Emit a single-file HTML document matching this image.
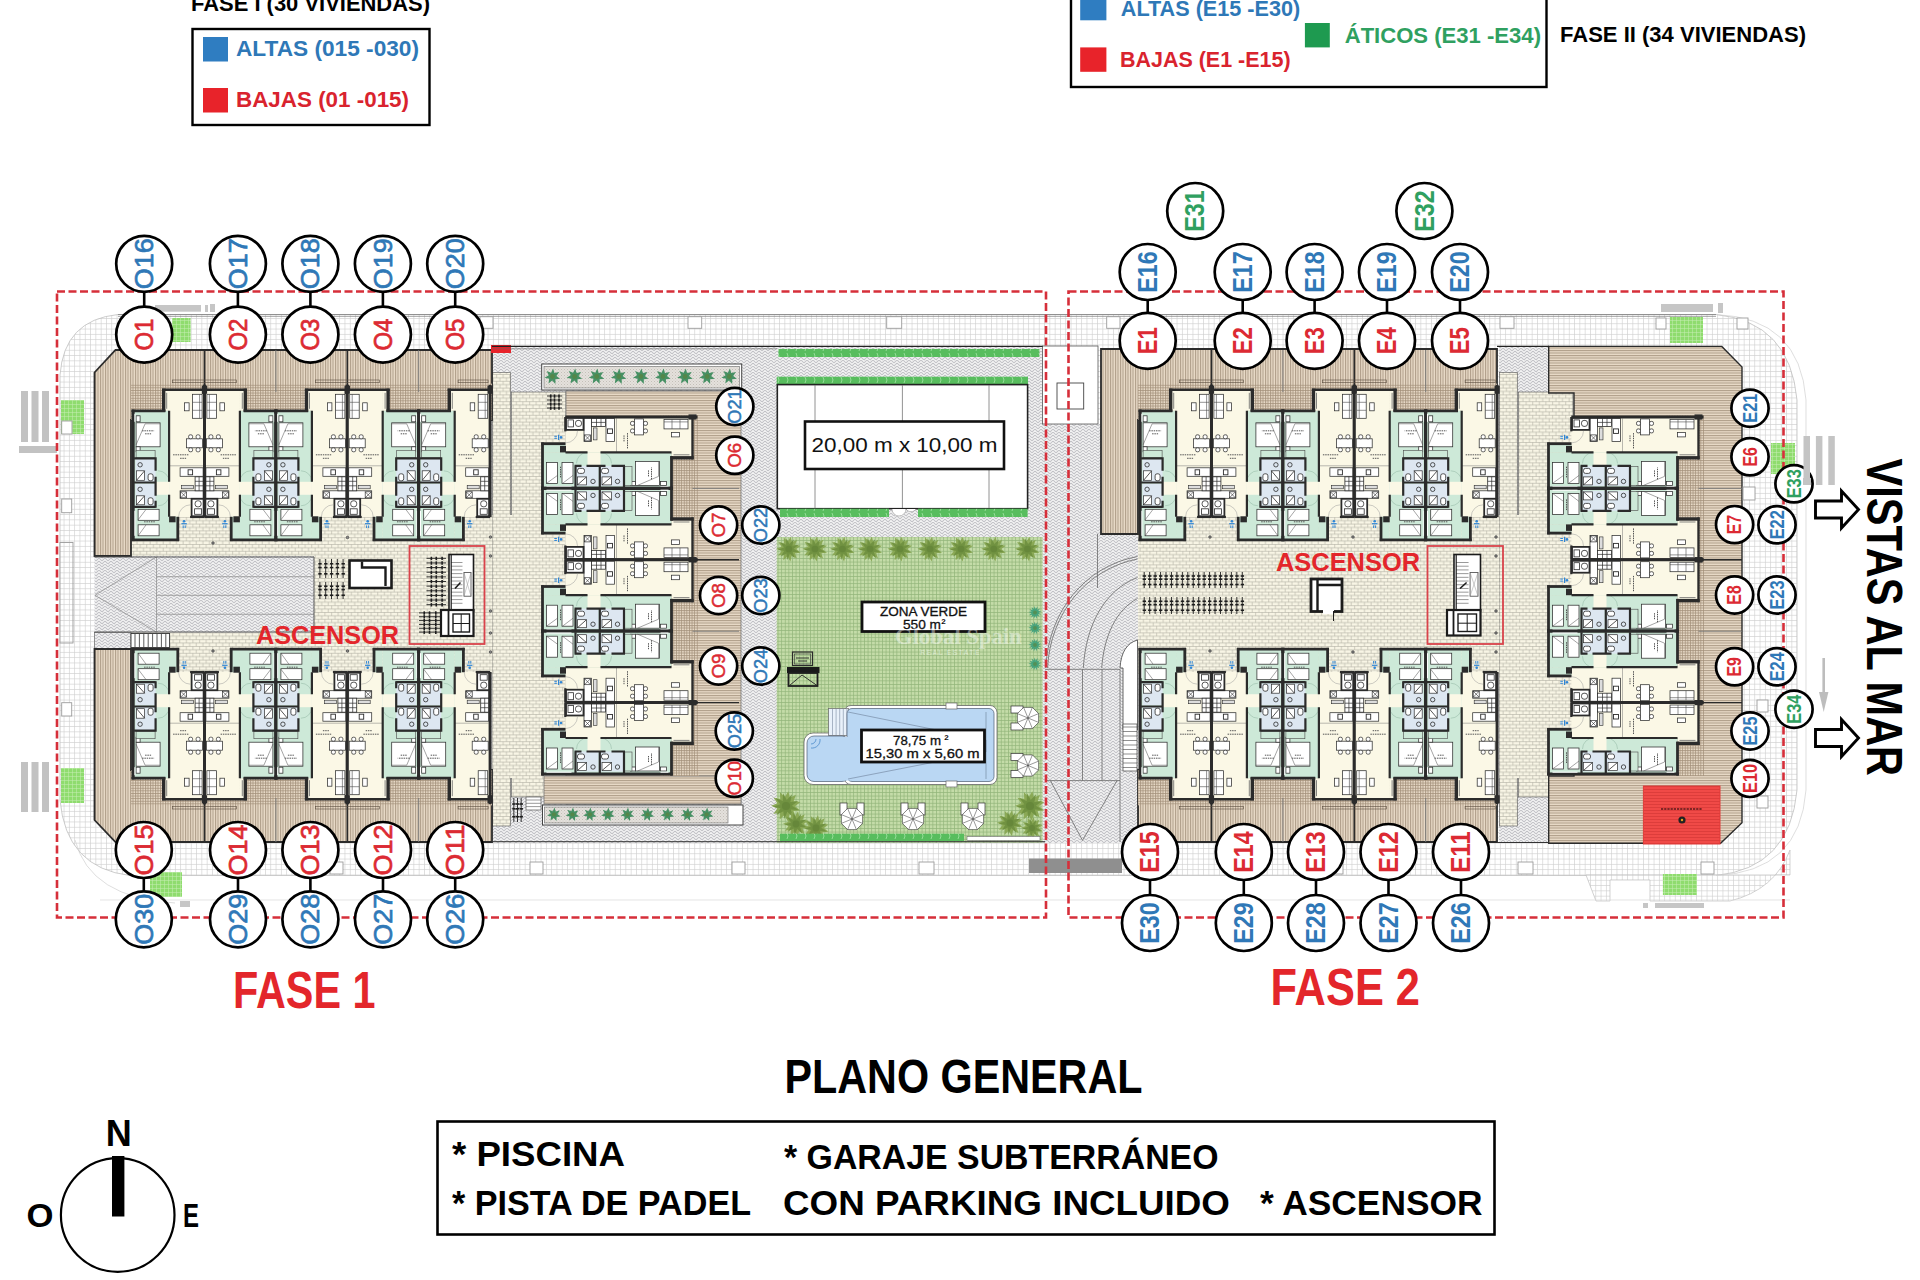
<!DOCTYPE html>
<html><head><meta charset="utf-8"><title>Plano general</title>
<style>html,body{margin:0;padding:0;background:#fff;overflow:hidden}svg{display:block}text{font-family:'Liberation Sans', Arial, sans-serif}</style></head>
<body><svg width="1920" height="1280" viewBox="0 0 1920 1280">

<defs>
<pattern id="woodV" width="2.5" height="8" patternUnits="userSpaceOnUse"><rect width="2.5" height="8" fill="#E8DBC8"/><rect x="0" width="1.05" height="8" fill="#AF9D88"/></pattern>
<pattern id="woodX" width="2.5" height="2.6" patternUnits="userSpaceOnUse"><rect width="2.5" height="2.6" fill="#E8DBC8"/><rect x="0" width="1.05" height="2.6" fill="#AF9D88"/><rect y="0" width="2.5" height="0.7" fill="#A39079"/></pattern>
<pattern id="woodXh" width="2.6" height="2.5" patternUnits="userSpaceOnUse"><rect width="2.6" height="2.5" fill="#E8DBC8"/><rect y="0" height="1.05" width="2.6" fill="#AF9D88"/><rect x="0" height="2.5" width="0.7" fill="#A39079"/></pattern>
<pattern id="woodH" width="8" height="2.5" patternUnits="userSpaceOnUse"><rect width="8" height="2.5" fill="#E8DBC8"/><rect y="0" width="8" height="1.05" fill="#AF9D88"/></pattern>
<pattern id="brick" width="6.6" height="6.8" patternUnits="userSpaceOnUse"><rect width="6.6" height="6.8" fill="#F8F5E5"/><path d="M0 0.4H6.6M0 3.8H6.6M1.6 0.4V3.8M4.9 3.8V6.8M4.9 0V0.4" stroke="#AEAC9F" stroke-width="0.6" fill="none"/></pattern>
<pattern id="herr" width="6" height="6" patternUnits="userSpaceOnUse"><rect width="6" height="6" fill="#F4F4F4"/><path d="M0 3L3 0M0 6L3 3M3 0L6 3M3 3L6 6M-1 1L1 -1M5 7L7 5" stroke="#C0C0C5" stroke-width="1.05" fill="none"/></pattern>
<pattern id="grid" width="5.3" height="5.3" patternUnits="userSpaceOnUse"><rect width="5.3" height="5.3" fill="#FFFFFF"/><path d="M0 0.35H5.3M0.35 0V5.3" stroke="#CFCFCF" stroke-width="0.7" fill="none"/></pattern>
<pattern id="grass" width="3.6" height="3.6" patternUnits="userSpaceOnUse"><rect width="3.6" height="3.6" fill="#C4DCA8"/><path d="M0 0.4H3.6M0.4 0V3.6" stroke="#92B479" stroke-width="0.75" fill="none"/></pattern>
<pattern id="hedge" width="9" height="8" patternUnits="userSpaceOnUse"><rect width="9" height="8" fill="#58BD5E"/><path d="M4 1L5 4L4 7" stroke="#A5E3A6" stroke-width="0.8" fill="none"/></pattern>
<pattern id="gsq" width="4" height="4" patternUnits="userSpaceOnUse"><rect width="4" height="4" fill="#8FDC6E"/><path d="M0 0.3H4M0.3 0V4" stroke="#C9F0B8" stroke-width="0.6" fill="none"/></pattern>
<pattern id="redst" width="6" height="3" patternUnits="userSpaceOnUse"><rect width="6" height="3" fill="#F04A47"/><rect width="6" height="0.8" fill="#D93A38"/></pattern>
<pattern id="gravel" width="3" height="3" patternUnits="userSpaceOnUse"><rect width="3" height="3" fill="#E4E1DC"/><rect width="1" height="1" fill="#C4BFB8"/><rect x="1.5" y="1.5" width="1" height="1" fill="#D0CBC4"/></pattern>

<g id="unit"><rect x="36" y="0" width="35.4" height="127.2" fill="#FBF8E6"/>
<rect x="30" y="0" width="6.5" height="21" fill="#FBF8E6"/>
<rect x="0" y="21" width="36" height="129" fill="#CDE9D8"/>
<rect x="36" y="127" width="9" height="23" fill="#CDE9D8"/>
<rect x="22" y="92" width="14" height="13" fill="#FBF8E6"/>
<rect x="2.5" y="69" width="20" height="23" fill="#DDE7F1"/>
<rect x="2.5" y="94" width="20" height="22" fill="#DDE7F1"/>
<rect x="3" y="33" width="24" height="24" fill="#FFFFFF" stroke="#2e2e2e" stroke-width="0.75"/>
<path d="M3 55L12 34H27" fill="none" stroke="#4a4a4a" stroke-width="0.5"/>
<rect x="3" y="26" width="4" height="6" fill="#FFFFFF" stroke="#2e2e2e" stroke-width="0.75"/><rect x="3" y="57" width="4" height="5" fill="#FFFFFF" stroke="#2e2e2e" stroke-width="0.75"/>
<rect x="3" y="60.5" width="19" height="7.5" fill="#CDE9D8" stroke="#4a4a4a" stroke-width="0.6"/>
<rect x="5" y="119.5" width="21" height="11" fill="#FFFFFF" stroke="#2e2e2e" stroke-width="0.75"/><rect x="5" y="135" width="21" height="11" fill="#FFFFFF" stroke="#2e2e2e" stroke-width="0.75"/>
<path d="M5 130L13 119.5M5 146L13 135" fill="none" stroke="#4a4a4a" stroke-width="0.5"/>
<circle cx="7" cy="75" r="2.2" fill="none" stroke="#2b2b2b" stroke-width="0.8"/><circle cx="7" cy="99.5" r="2.2" fill="none" stroke="#2b2b2b" stroke-width="0.8"/>
<rect x="3.5" y="81" width="8" height="9.5" fill="#fff" stroke="#2b2b2b" stroke-width="0.7"/><path d="M3.5 90.5L11.5 81" fill="none" stroke="#2b2b2b" stroke-width="0.8"/>
<rect x="3.5" y="106" width="8" height="9" fill="#fff" stroke="#2b2b2b" stroke-width="0.7"/><path d="M3.5 115L11.5 106" fill="none" stroke="#2b2b2b" stroke-width="0.8"/>
<rect x="15" y="84" width="5" height="7" rx="2" fill="#fff" stroke="#2b2b2b" stroke-width="0.8"/>
<rect x="15" y="108" width="5" height="7" rx="2" fill="#fff" stroke="#2b2b2b" stroke-width="0.8"/>
<rect x="59.5" y="4.5" width="9.5" height="24" fill="#FFFFFF" stroke="#2e2e2e" stroke-width="0.75"/><path d="M59.5 12.5h9.5M59.5 20.5h9.5M66.5 4.5v24" fill="none" stroke="#4a4a4a" stroke-width="0.6"/>
<rect x="51.5" y="13" width="4.5" height="8" fill="#FFFFFF" stroke="#2e2e2e" stroke-width="0.75"/>
<rect x="53.5" y="49" width="16" height="9" fill="#FFFFFF" stroke="#2e2e2e" stroke-width="0.75"/>
<rect x="55.5" y="45" width="4" height="4" rx="1.6" fill="#FFFFFF" stroke="#2e2e2e" stroke-width="0.75"/><rect x="55.5" y="58" width="4" height="4" rx="1.6" fill="#FFFFFF" stroke="#2e2e2e" stroke-width="0.75"/>
<rect x="63" y="45" width="4" height="4" rx="1.6" fill="#FFFFFF" stroke="#2e2e2e" stroke-width="0.75"/><rect x="63" y="58" width="4" height="4" rx="1.6" fill="#FFFFFF" stroke="#2e2e2e" stroke-width="0.75"/>
<path d="M36 76H70" stroke="#777" stroke-width="0.5"/>
<path d="M40 65H56M47 68.5H53M9 41H21M12 44H18M11 132H22" stroke="#555" stroke-width="1" stroke-dasharray="1.5 0.8" fill="none"/>
<rect x="47" y="78" width="23" height="8.5" fill="#FFFFFF" stroke="#2e2e2e" stroke-width="0.75"/><rect x="55" y="80" width="4.5" height="5" fill="#fff" stroke="#2b2b2b" stroke-width="0.9"/>
<rect x="47" y="101" width="23" height="7.5" fill="#FFFFFF" stroke="#2e2e2e" stroke-width="0.75"/><rect x="47.5" y="102" width="6" height="6" fill="#fff" stroke="#2b2b2b" stroke-width="0.7"/><path d="M47.5 102l6 6M53.5 102l-6 6" stroke="#2b2b2b" stroke-width="0.6"/>
<rect x="62" y="87" width="8" height="14" fill="#fff" stroke="#2b2b2b" stroke-width="0.8"/><path d="M62 91.5h8M62 96h8M66 87v14" stroke="#2b2b2b" stroke-width="0.7"/>
<rect x="48.5" y="95.5" width="12" height="3.5" fill="#ddd" stroke="#2b2b2b" stroke-width="0.6"/>
<rect x="58.5" y="109" width="12" height="17.5" fill="#fff" stroke="#2b2b2b" stroke-width="1.8"/>
<rect x="62" y="111" width="6" height="6" rx="2.5" fill="#fff" stroke="#2b2b2b" stroke-width="0.8"/><rect x="61.5" y="119" width="7" height="5.5" fill="#fff" stroke="#2b2b2b" stroke-width="0.8"/>
<path d="M45.5 127A12 12 0 0 1 57.5 115" fill="none" stroke="#9a9a9a" stroke-width="0.5"/>
<path d="M36 92A11 11 0 0 0 25 81M36 105A11 11 0 0 1 25 116" fill="none" stroke="#8fb5a0" stroke-width="0.5"/>
<path d="M0 19.7V151.3" stroke="#2b2b2b" fill="none" stroke-width="3.2"/>
<path d="M71.4 -5V127.2" stroke="#2b2b2b" fill="none" stroke-width="3"/>
<path d="M68.80000000000001 -4h5.2v8h-5.2z" fill="#2b2b2b"/>
<path d="M29 0H71.4" stroke="#2b2b2b" fill="none" stroke-width="2.4"/>
<path d="M30.6 -1.2V22" stroke="#2b2b2b" fill="none" stroke-width="3.4"/>
<path d="M33.6 3V19" stroke="#666" stroke-width="0.8" fill="none"/>
<path d="M-1.6 21H32.3" stroke="#2b2b2b" fill="none" stroke-width="2.8"/>
<path d="M36 21V92M36 105V127" stroke="#2b2b2b" fill="none" stroke-width="2.2"/>
<path d="M-1.6 150H46" stroke="#2b2b2b" fill="none" stroke-width="2.8"/>
<path d="M44.7 127V151.3" stroke="#2b2b2b" fill="none" stroke-width="2.8"/>
<rect x="36" y="126.5" width="6.5" height="6" fill="#2b2b2b"/>
<path d="M57 127.2H71.4" stroke="#2b2b2b" fill="none" stroke-width="2.2"/>
<path d="M1 68.5H22.5M1 92.7H22.5M1 117H22.5M22.5 67.5V81M22.5 87V106M22.5 111V118" stroke="#2b2b2b" fill="none" stroke-width="2.2"/>
<path d="M1.8 24V32M1.8 121V146" stroke="#fff" stroke-width="1" fill="none"/>
<g fill="#2F86D6"><circle cx="51" cy="131.5" r="1.3"/><path d="M48.3 133.3h5.4v1.2h-5.4z"/><rect x="49.6" y="135.6" width="1" height="2.6"/><rect x="51.6" y="135.6" width="1" height="2.6"/></g></g>
</defs>
<path d="M118 314.5H1716Q1790 322 1797 400V790Q1790 868 1716 875.5H130Q66 868 60 800V375Q64 320 118 314.5Z" fill="url(#grid)" stroke="#BFBFBF" stroke-width="0.8"/>
<path d="M1586 875L1596 901H1610V880H1650V901H1730Q1775 890 1790 850V875Z" fill="url(#grid)" stroke="#BFBFBF" stroke-width="0.7"/>
<path d="M1716 314.5Q1800 318 1806 400V790Q1800 872 1716 875.5" fill="none" stroke="#D0D0D0" stroke-width="0.7"/>
<path d="M118 314.5H1716M118 316.3H1716" stroke="#777" stroke-width="0.7"/>
<path d="M100 900H1790" stroke="#D8D8D8" stroke-width="0.7"/><path d="M75 840Q90 898 175 903" fill="none" stroke="#D0D0D0" stroke-width="0.7"/>
<rect x="492.00" y="346.00" width="553.00" height="497.00" fill="url(#herr)" />
<rect x="131.00" y="515.00" width="417.00" height="159.00" fill="url(#brick)" />
<rect x="492.50" y="372.50" width="18.00" height="453.50" fill="url(#brick)" stroke="#555" stroke-width="0.6"/>
<rect x="511.50" y="392.00" width="54.50" height="405.00" fill="url(#brick)" stroke="#555" stroke-width="0.6"/>
<rect x="492.50" y="515.00" width="73.50" height="263.00" fill="url(#brick)" />
<rect x="94.50" y="556.00" width="219.50" height="76.50" fill="url(#herr)" />
<rect x="94.50" y="632.50" width="36.50" height="16.50" fill="url(#herr)" stroke="#666" stroke-width="0.7"/>
<polygon points="94.50,372.50 115.50,350.00 492.00,350.00 492.00,420.00 131.00,420.00 131.00,556.00 94.50,556.00" fill="url(#woodV)" stroke="#2b2b2b" stroke-width="1.8"/>
<rect x="131.00" y="383.70" width="361.00" height="36.30" fill="url(#woodX)" />
<polygon points="94.50,649.00 131.00,649.00 131.00,770.00 492.00,770.00 492.00,842.00 115.50,842.00 94.50,820.00" fill="url(#woodV)" stroke="#2b2b2b" stroke-width="1.8"/>
<rect x="131.00" y="770.00" width="361.00" height="35.30" fill="url(#woodX)" />
<rect x="566.00" y="391.00" width="175.00" height="413.00" fill="url(#woodH)" stroke="#777" stroke-width="0.8"/>
<rect x="544.00" y="776.00" width="197.00" height="28.00" fill="url(#woodH)" stroke="#777" stroke-width="0.8"/>
<rect x="660.00" y="415.00" width="39.00" height="361.00" fill="url(#woodXh)" />
<rect x="541.70" y="364.00" width="200.00" height="26.00" fill="#fff" stroke="#444" stroke-width="1"/>
<rect x="544.00" y="366.50" width="195.50" height="21.50" fill="url(#gravel)" stroke="#666" stroke-width="0.6"/>
<rect x="542.50" y="805.00" width="200.50" height="20.00" fill="#fff" stroke="#444" stroke-width="1"/>
<rect x="544.50" y="807.00" width="183.50" height="16.00" fill="url(#gravel)" stroke="#666" stroke-width="0.6"/>
<polygon points="560.14,378.86 555.43,379.22 555.42,383.95 552.20,380.49 548.49,383.42 549.19,378.75 544.59,377.69 548.68,375.32 546.64,371.05 551.04,372.78 553.10,368.52 554.50,373.04 559.11,372.00 556.46,375.91" fill="#3A8A5A" opacity="0.92"/>
<circle cx="552.5" cy="376.5" r="2.4" fill="#5F7F35" opacity="0.55"/>
<polygon points="582.24,378.86 577.53,379.22 577.52,383.95 574.30,380.49 570.59,383.42 571.29,378.75 566.69,377.69 570.78,375.32 568.74,371.05 573.14,372.78 575.20,368.52 576.60,373.04 581.21,372.00 578.56,375.91" fill="#3A8A5A" opacity="0.92"/>
<circle cx="574.6" cy="376.5" r="2.4" fill="#5F7F35" opacity="0.55"/>
<polygon points="604.34,378.86 599.63,379.22 599.62,383.95 596.40,380.49 592.69,383.42 593.39,378.75 588.79,377.69 592.88,375.32 590.84,371.05 595.24,372.78 597.30,368.52 598.70,373.04 603.31,372.00 600.66,375.91" fill="#3A8A5A" opacity="0.92"/>
<circle cx="596.7" cy="376.5" r="2.4" fill="#5F7F35" opacity="0.55"/>
<polygon points="626.44,378.86 621.73,379.22 621.72,383.95 618.50,380.49 614.79,383.42 615.49,378.75 610.89,377.69 614.98,375.32 612.94,371.05 617.34,372.78 619.40,368.52 620.80,373.04 625.41,372.00 622.76,375.91" fill="#3A8A5A" opacity="0.92"/>
<circle cx="618.8" cy="376.5" r="2.4" fill="#5F7F35" opacity="0.55"/>
<polygon points="648.54,378.86 643.83,379.22 643.82,383.95 640.60,380.49 636.89,383.42 637.59,378.75 632.99,377.69 637.08,375.32 635.04,371.05 639.44,372.78 641.50,368.52 642.90,373.04 647.51,372.00 644.86,375.91" fill="#3A8A5A" opacity="0.92"/>
<circle cx="640.9" cy="376.5" r="2.4" fill="#5F7F35" opacity="0.55"/>
<polygon points="670.64,378.86 665.93,379.22 665.92,383.95 662.70,380.49 658.99,383.42 659.69,378.75 655.09,377.69 659.18,375.32 657.14,371.05 661.54,372.78 663.60,368.52 665.00,373.04 669.61,372.00 666.96,375.91" fill="#3A8A5A" opacity="0.92"/>
<circle cx="663.0" cy="376.5" r="2.4" fill="#5F7F35" opacity="0.55"/>
<polygon points="692.74,378.86 688.03,379.22 688.02,383.95 684.80,380.49 681.09,383.42 681.79,378.75 677.19,377.69 681.28,375.32 679.24,371.05 683.64,372.78 685.70,368.52 687.10,373.04 691.71,372.00 689.06,375.91" fill="#3A8A5A" opacity="0.92"/>
<circle cx="685.1" cy="376.5" r="2.4" fill="#5F7F35" opacity="0.55"/>
<polygon points="714.84,378.86 710.13,379.22 710.12,383.95 706.90,380.49 703.19,383.42 703.89,378.75 699.29,377.69 703.38,375.32 701.34,371.05 705.74,372.78 707.80,368.52 709.20,373.04 713.81,372.00 711.16,375.91" fill="#3A8A5A" opacity="0.92"/>
<circle cx="707.2" cy="376.5" r="2.4" fill="#5F7F35" opacity="0.55"/>
<polygon points="736.94,378.86 732.23,379.22 732.22,383.95 729.00,380.49 725.29,383.42 725.99,378.75 721.39,377.69 725.48,375.32 723.44,371.05 727.84,372.78 729.90,368.52 731.30,373.04 735.91,372.00 733.26,375.91" fill="#3A8A5A" opacity="0.92"/>
<circle cx="729.3" cy="376.5" r="2.4" fill="#5F7F35" opacity="0.55"/>
<polygon points="560.69,816.57 556.56,816.88 556.55,821.02 553.74,817.99 550.50,820.56 551.11,816.47 547.08,815.54 550.66,813.47 548.87,809.73 552.72,811.24 554.53,807.52 555.75,811.47 559.79,810.56 557.46,813.98" fill="#3A8A5A" opacity="0.92"/>
<circle cx="554.0" cy="814.5" r="2.1" fill="#5F7F35" opacity="0.55"/>
<polygon points="579.19,816.57 575.06,816.88 575.05,821.02 572.24,817.99 569.00,820.56 569.61,816.47 565.58,815.54 569.16,813.47 567.37,809.73 571.22,811.24 573.03,807.52 574.25,811.47 578.29,810.56 575.96,813.98" fill="#3A8A5A" opacity="0.92"/>
<circle cx="572.5" cy="814.5" r="2.1" fill="#5F7F35" opacity="0.55"/>
<polygon points="596.69,816.57 592.56,816.88 592.55,821.02 589.74,817.99 586.50,820.56 587.11,816.47 583.08,815.54 586.66,813.47 584.87,809.73 588.72,811.24 590.53,807.52 591.75,811.47 595.79,810.56 593.46,813.98" fill="#3A8A5A" opacity="0.92"/>
<circle cx="590.0" cy="814.5" r="2.1" fill="#5F7F35" opacity="0.55"/>
<polygon points="614.69,816.57 610.56,816.88 610.55,821.02 607.74,817.99 604.50,820.56 605.11,816.47 601.08,815.54 604.66,813.47 602.87,809.73 606.72,811.24 608.53,807.52 609.75,811.47 613.79,810.56 611.46,813.98" fill="#3A8A5A" opacity="0.92"/>
<circle cx="608.0" cy="814.5" r="2.1" fill="#5F7F35" opacity="0.55"/>
<polygon points="634.19,816.57 630.06,816.88 630.05,821.02 627.24,817.99 624.00,820.56 624.61,816.47 620.58,815.54 624.16,813.47 622.37,809.73 626.22,811.24 628.03,807.52 629.25,811.47 633.29,810.56 630.96,813.98" fill="#3A8A5A" opacity="0.92"/>
<circle cx="627.5" cy="814.5" r="2.1" fill="#5F7F35" opacity="0.55"/>
<polygon points="654.19,816.57 650.06,816.88 650.05,821.02 647.24,817.99 644.00,820.56 644.61,816.47 640.58,815.54 644.16,813.47 642.37,809.73 646.22,811.24 648.03,807.52 649.25,811.47 653.29,810.56 650.96,813.98" fill="#3A8A5A" opacity="0.92"/>
<circle cx="647.5" cy="814.5" r="2.1" fill="#5F7F35" opacity="0.55"/>
<polygon points="674.19,816.57 670.06,816.88 670.05,821.02 667.24,817.99 664.00,820.56 664.61,816.47 660.58,815.54 664.16,813.47 662.37,809.73 666.22,811.24 668.03,807.52 669.25,811.47 673.29,810.56 670.96,813.98" fill="#3A8A5A" opacity="0.92"/>
<circle cx="667.5" cy="814.5" r="2.1" fill="#5F7F35" opacity="0.55"/>
<polygon points="694.19,816.57 690.06,816.88 690.05,821.02 687.24,817.99 684.00,820.56 684.61,816.47 680.58,815.54 684.16,813.47 682.37,809.73 686.22,811.24 688.03,807.52 689.25,811.47 693.29,810.56 690.96,813.98" fill="#3A8A5A" opacity="0.92"/>
<circle cx="687.5" cy="814.5" r="2.1" fill="#5F7F35" opacity="0.55"/>
<polygon points="713.39,816.57 709.26,816.88 709.25,821.02 706.44,817.99 703.20,820.56 703.81,816.47 699.78,815.54 703.36,813.47 701.57,809.73 705.42,811.24 707.23,807.52 708.45,811.47 712.49,810.56 710.16,813.98" fill="#3A8A5A" opacity="0.92"/>
<circle cx="706.7" cy="814.5" r="2.1" fill="#5F7F35" opacity="0.55"/>
<line x1="204.50" y1="350.00" x2="204.50" y2="392.00" stroke="#2b2b2b" stroke-width="1.6" />
<line x1="204.50" y1="798.00" x2="204.50" y2="842.00" stroke="#2b2b2b" stroke-width="1.6" />
<line x1="275.90" y1="350.00" x2="275.90" y2="392.00" stroke="#777" stroke-width="0.9" />
<line x1="275.90" y1="798.00" x2="275.90" y2="842.00" stroke="#777" stroke-width="0.9" />
<line x1="347.30" y1="350.00" x2="347.30" y2="392.00" stroke="#2b2b2b" stroke-width="1.6" />
<line x1="347.30" y1="798.00" x2="347.30" y2="842.00" stroke="#2b2b2b" stroke-width="1.6" />
<line x1="418.70" y1="350.00" x2="418.70" y2="392.00" stroke="#777" stroke-width="0.9" />
<line x1="418.70" y1="798.00" x2="418.70" y2="842.00" stroke="#777" stroke-width="0.9" />
<rect x="172.5" y="380" width="64" height="2.7" fill="none" stroke="#5b4e40" stroke-width="0.6"/>
<rect x="172.5" y="806.3" width="64" height="2.7" fill="none" stroke="#5b4e40" stroke-width="0.6"/>
<rect x="315.3" y="380" width="64" height="2.7" fill="none" stroke="#5b4e40" stroke-width="0.6"/>
<rect x="315.3" y="806.3" width="64" height="2.7" fill="none" stroke="#5b4e40" stroke-width="0.6"/>
<rect x="458.1" y="380" width="30" height="2.7" fill="none" stroke="#5b4e40" stroke-width="0.6"/>
<rect x="458.1" y="806.3" width="30" height="2.7" fill="none" stroke="#5b4e40" stroke-width="0.6"/>
<line x1="692.50" y1="488.40" x2="739.00" y2="488.40" stroke="#777" stroke-width="0.9" />
<line x1="692.50" y1="559.80" x2="739.00" y2="559.80" stroke="#2b2b2b" stroke-width="1.4" />
<line x1="692.50" y1="631.20" x2="739.00" y2="631.20" stroke="#777" stroke-width="0.9" />
<line x1="692.50" y1="702.60" x2="739.00" y2="702.60" stroke="#2b2b2b" stroke-width="1.4" />
<use href="#unit" transform="matrix(1 0 0 1 133.10 389.80)"/>
<use href="#unit" transform="matrix(1 0 0 -1 133.10 799.20)"/>
<use href="#unit" transform="matrix(-1 0 0 1 275.90 389.80)"/>
<use href="#unit" transform="matrix(-1 0 0 -1 275.90 799.20)"/>
<use href="#unit" transform="matrix(1 0 0 1 275.90 389.80)"/>
<use href="#unit" transform="matrix(1 0 0 -1 275.90 799.20)"/>
<use href="#unit" transform="matrix(-1 0 0 1 418.70 389.80)"/>
<use href="#unit" transform="matrix(-1 0 0 -1 418.70 799.20)"/>
<use href="#unit" transform="matrix(1 0 0 1 418.70 389.80)"/>
<use href="#unit" transform="matrix(1 0 0 -1 418.70 799.20)"/>
<use href="#unit" transform="matrix(0 -1 -1 0 692.50 488.40)"/>
<use href="#unit" transform="matrix(0 1 -1 0 692.50 488.40)"/>
<use href="#unit" transform="matrix(0 -1 -1 0 692.50 631.20)"/>
<use href="#unit" transform="matrix(0 1 -1 0 692.50 631.20)"/>
<use href="#unit" transform="matrix(0 -1 -1 0 692.50 774.00)"/>
<rect x="1045.00" y="424.00" width="93.00" height="419.00" fill="url(#herr)" />
<rect x="1499.00" y="346.00" width="50.00" height="497.00" fill="url(#herr)" />
<rect x="1138.00" y="515.00" width="417.00" height="159.00" fill="url(#brick)" />
<rect x="1499.50" y="372.50" width="18.00" height="453.50" fill="url(#brick)" stroke="#555" stroke-width="0.6"/>
<rect x="1518.50" y="392.00" width="54.50" height="405.00" fill="url(#brick)" stroke="#555" stroke-width="0.6"/>
<rect x="1499.50" y="515.00" width="73.50" height="263.00" fill="url(#brick)" />
<polygon points="1101.00,349.00 1497.00,349.00 1497.00,420.00 1138.00,420.00 1138.00,534.00 1101.00,534.00" fill="url(#woodV)" stroke="#2b2b2b" stroke-width="1.8"/>
<rect x="1138.00" y="383.70" width="359.00" height="36.30" fill="url(#woodX)" />
<polygon points="1138.00,770.00 1497.00,770.00 1497.00,842.00 1138.00,842.00" fill="url(#woodV)" stroke="#2b2b2b" stroke-width="1.8"/>
<rect x="1138.00" y="770.00" width="359.00" height="35.30" fill="url(#woodX)" />
<polygon points="1548.70,346.40 1721.80,346.40 1742.00,367.00 1742.00,822.70 1720.60,843.30 1548.70,843.30 1548.70,776.00 1574.00,776.00 1574.00,393.00 1548.70,393.00" fill="url(#woodH)" stroke="#2b2b2b" stroke-width="1.4"/>
<rect x="1666.00" y="415.00" width="39.00" height="361.00" fill="url(#woodXh)" />
<line x1="1211.50" y1="350.00" x2="1211.50" y2="392.00" stroke="#2b2b2b" stroke-width="1.6" />
<line x1="1211.50" y1="798.00" x2="1211.50" y2="842.00" stroke="#2b2b2b" stroke-width="1.6" />
<line x1="1282.90" y1="350.00" x2="1282.90" y2="392.00" stroke="#777" stroke-width="0.9" />
<line x1="1282.90" y1="798.00" x2="1282.90" y2="842.00" stroke="#777" stroke-width="0.9" />
<line x1="1354.30" y1="350.00" x2="1354.30" y2="392.00" stroke="#2b2b2b" stroke-width="1.6" />
<line x1="1354.30" y1="798.00" x2="1354.30" y2="842.00" stroke="#2b2b2b" stroke-width="1.6" />
<line x1="1425.70" y1="350.00" x2="1425.70" y2="392.00" stroke="#777" stroke-width="0.9" />
<line x1="1425.70" y1="798.00" x2="1425.70" y2="842.00" stroke="#777" stroke-width="0.9" />
<rect x="1179.5" y="380" width="64" height="2.7" fill="none" stroke="#5b4e40" stroke-width="0.6"/>
<rect x="1179.5" y="806.3" width="64" height="2.7" fill="none" stroke="#5b4e40" stroke-width="0.6"/>
<rect x="1322.3" y="380" width="64" height="2.7" fill="none" stroke="#5b4e40" stroke-width="0.6"/>
<rect x="1322.3" y="806.3" width="64" height="2.7" fill="none" stroke="#5b4e40" stroke-width="0.6"/>
<rect x="1465.1" y="380" width="30" height="2.7" fill="none" stroke="#5b4e40" stroke-width="0.6"/>
<rect x="1465.1" y="806.3" width="30" height="2.7" fill="none" stroke="#5b4e40" stroke-width="0.6"/>
<line x1="1698.50" y1="488.40" x2="1742.00" y2="488.40" stroke="#777" stroke-width="0.9" />
<line x1="1698.50" y1="559.80" x2="1742.00" y2="559.80" stroke="#2b2b2b" stroke-width="1.4" />
<line x1="1698.50" y1="631.20" x2="1742.00" y2="631.20" stroke="#777" stroke-width="0.9" />
<line x1="1698.50" y1="702.60" x2="1742.00" y2="702.60" stroke="#2b2b2b" stroke-width="1.4" />
<use href="#unit" transform="matrix(1 0 0 1 1140.10 389.80)"/>
<use href="#unit" transform="matrix(1 0 0 -1 1140.10 799.20)"/>
<use href="#unit" transform="matrix(-1 0 0 1 1282.90 389.80)"/>
<use href="#unit" transform="matrix(-1 0 0 -1 1282.90 799.20)"/>
<use href="#unit" transform="matrix(1 0 0 1 1282.90 389.80)"/>
<use href="#unit" transform="matrix(1 0 0 -1 1282.90 799.20)"/>
<use href="#unit" transform="matrix(-1 0 0 1 1425.70 389.80)"/>
<use href="#unit" transform="matrix(-1 0 0 -1 1425.70 799.20)"/>
<use href="#unit" transform="matrix(1 0 0 1 1425.70 389.80)"/>
<use href="#unit" transform="matrix(1 0 0 -1 1425.70 799.20)"/>
<use href="#unit" transform="matrix(0 -1 -1 0 1698.50 488.40)"/>
<use href="#unit" transform="matrix(0 1 -1 0 1698.50 488.40)"/>
<use href="#unit" transform="matrix(0 -1 -1 0 1698.50 631.20)"/>
<use href="#unit" transform="matrix(0 1 -1 0 1698.50 631.20)"/>
<use href="#unit" transform="matrix(0 -1 -1 0 1698.50 774.00)"/>
<rect x="778.40" y="349.00" width="261.10" height="8.00" fill="url(#hedge)" />
<rect x="776.70" y="376.70" width="251.30" height="7.90" fill="url(#hedge)" />
<rect x="777.30" y="384.60" width="250.30" height="124.10" fill="#FFFFFF" stroke="#222" stroke-width="1.6"/>
<line x1="815.00" y1="385.00" x2="815.00" y2="508.00" stroke="#777" stroke-width="0.8" />
<line x1="902.40" y1="385.00" x2="902.40" y2="508.00" stroke="#777" stroke-width="0.8" />
<line x1="989.00" y1="385.00" x2="989.00" y2="508.00" stroke="#777" stroke-width="0.8" />
<rect x="780.00" y="508.70" width="109.00" height="8.30" fill="url(#hedge)" />
<rect x="918.00" y="508.70" width="109.60" height="8.30" fill="url(#hedge)" />
<rect x="776.70" y="537.00" width="265.90" height="305.70" fill="url(#grass)" />
<g fill="none" stroke="#8a8a8a" stroke-width="0.7">
<path d="M156.5 557V632M156.5 576.7H314M156.5 595.3H314M156.5 614.3H314M95 595.3L156.5 557M95 595.3L156.5 632"/>
</g>
<path d="M94.5 557H314V632H94.5" fill="none" stroke="#555" stroke-width="1"/>
<rect x="131.00" y="633.50" width="38.60" height="14.00" fill="#fff" stroke="#333" stroke-width="0.9"/>
<line x1="135.00" y1="634.00" x2="135.00" y2="647.00" stroke="#333" stroke-width="0.8" />
<line x1="139.40" y1="634.00" x2="139.40" y2="647.00" stroke="#333" stroke-width="0.8" />
<line x1="143.80" y1="634.00" x2="143.80" y2="647.00" stroke="#333" stroke-width="0.8" />
<line x1="148.20" y1="634.00" x2="148.20" y2="647.00" stroke="#333" stroke-width="0.8" />
<line x1="152.60" y1="634.00" x2="152.60" y2="647.00" stroke="#333" stroke-width="0.8" />
<line x1="157.00" y1="634.00" x2="157.00" y2="647.00" stroke="#333" stroke-width="0.8" />
<line x1="161.40" y1="634.00" x2="161.40" y2="647.00" stroke="#333" stroke-width="0.8" />
<line x1="165.80" y1="634.00" x2="165.80" y2="647.00" stroke="#333" stroke-width="0.8" />
<g stroke="#1d1d1d" stroke-width="0.9">
<line x1="319.90" y1="559.00" x2="319.90" y2="578.00" stroke="#1d1d1d" stroke-width="0.9" />
<line x1="318.30" y1="563.75" x2="321.70" y2="563.75" stroke="#1d1d1d" stroke-width="1.6" />
<line x1="318.30" y1="567.55" x2="321.70" y2="567.55" stroke="#1d1d1d" stroke-width="1.6" />
<line x1="318.30" y1="573.82" x2="321.70" y2="573.82" stroke="#1d1d1d" stroke-width="1.6" />
<line x1="325.70" y1="559.00" x2="325.70" y2="578.00" stroke="#1d1d1d" stroke-width="0.9" />
<line x1="324.10" y1="563.75" x2="327.50" y2="563.75" stroke="#1d1d1d" stroke-width="1.6" />
<line x1="324.10" y1="567.55" x2="327.50" y2="567.55" stroke="#1d1d1d" stroke-width="1.6" />
<line x1="324.10" y1="573.82" x2="327.50" y2="573.82" stroke="#1d1d1d" stroke-width="1.6" />
<line x1="331.50" y1="559.00" x2="331.50" y2="578.00" stroke="#1d1d1d" stroke-width="0.9" />
<line x1="329.90" y1="563.75" x2="333.30" y2="563.75" stroke="#1d1d1d" stroke-width="1.6" />
<line x1="329.90" y1="567.55" x2="333.30" y2="567.55" stroke="#1d1d1d" stroke-width="1.6" />
<line x1="329.90" y1="573.82" x2="333.30" y2="573.82" stroke="#1d1d1d" stroke-width="1.6" />
<line x1="337.30" y1="559.00" x2="337.30" y2="578.00" stroke="#1d1d1d" stroke-width="0.9" />
<line x1="335.70" y1="563.75" x2="339.10" y2="563.75" stroke="#1d1d1d" stroke-width="1.6" />
<line x1="335.70" y1="567.55" x2="339.10" y2="567.55" stroke="#1d1d1d" stroke-width="1.6" />
<line x1="335.70" y1="573.82" x2="339.10" y2="573.82" stroke="#1d1d1d" stroke-width="1.6" />
<line x1="343.10" y1="559.00" x2="343.10" y2="578.00" stroke="#1d1d1d" stroke-width="0.9" />
<line x1="341.50" y1="563.75" x2="344.90" y2="563.75" stroke="#1d1d1d" stroke-width="1.6" />
<line x1="341.50" y1="567.55" x2="344.90" y2="567.55" stroke="#1d1d1d" stroke-width="1.6" />
<line x1="341.50" y1="573.82" x2="344.90" y2="573.82" stroke="#1d1d1d" stroke-width="1.6" />
</g>
<g stroke="#1d1d1d" stroke-width="0.9">
<line x1="319.90" y1="582.00" x2="319.90" y2="599.00" stroke="#1d1d1d" stroke-width="0.9" />
<line x1="318.30" y1="586.25" x2="321.70" y2="586.25" stroke="#1d1d1d" stroke-width="1.6" />
<line x1="318.30" y1="589.65" x2="321.70" y2="589.65" stroke="#1d1d1d" stroke-width="1.6" />
<line x1="318.30" y1="595.26" x2="321.70" y2="595.26" stroke="#1d1d1d" stroke-width="1.6" />
<line x1="325.70" y1="582.00" x2="325.70" y2="599.00" stroke="#1d1d1d" stroke-width="0.9" />
<line x1="324.10" y1="586.25" x2="327.50" y2="586.25" stroke="#1d1d1d" stroke-width="1.6" />
<line x1="324.10" y1="589.65" x2="327.50" y2="589.65" stroke="#1d1d1d" stroke-width="1.6" />
<line x1="324.10" y1="595.26" x2="327.50" y2="595.26" stroke="#1d1d1d" stroke-width="1.6" />
<line x1="331.50" y1="582.00" x2="331.50" y2="599.00" stroke="#1d1d1d" stroke-width="0.9" />
<line x1="329.90" y1="586.25" x2="333.30" y2="586.25" stroke="#1d1d1d" stroke-width="1.6" />
<line x1="329.90" y1="589.65" x2="333.30" y2="589.65" stroke="#1d1d1d" stroke-width="1.6" />
<line x1="329.90" y1="595.26" x2="333.30" y2="595.26" stroke="#1d1d1d" stroke-width="1.6" />
<line x1="337.30" y1="582.00" x2="337.30" y2="599.00" stroke="#1d1d1d" stroke-width="0.9" />
<line x1="335.70" y1="586.25" x2="339.10" y2="586.25" stroke="#1d1d1d" stroke-width="1.6" />
<line x1="335.70" y1="589.65" x2="339.10" y2="589.65" stroke="#1d1d1d" stroke-width="1.6" />
<line x1="335.70" y1="595.26" x2="339.10" y2="595.26" stroke="#1d1d1d" stroke-width="1.6" />
<line x1="343.10" y1="582.00" x2="343.10" y2="599.00" stroke="#1d1d1d" stroke-width="0.9" />
<line x1="341.50" y1="586.25" x2="344.90" y2="586.25" stroke="#1d1d1d" stroke-width="1.6" />
<line x1="341.50" y1="589.65" x2="344.90" y2="589.65" stroke="#1d1d1d" stroke-width="1.6" />
<line x1="341.50" y1="595.26" x2="344.90" y2="595.26" stroke="#1d1d1d" stroke-width="1.6" />
</g>
<rect x="349.5" y="560.5" width="42" height="27.5" fill="#fff" stroke="#1b1b1b" stroke-width="2.6"/>
<path d="M362 561.5V567.5H385.5V586" fill="none" stroke="#1b1b1b" stroke-width="2.4"/>
<rect x="409.5" y="546" width="75" height="98" fill="none" stroke="#D9434B" stroke-width="1.8"/>
<line x1="426.50" y1="558.32" x2="446.00" y2="558.32" stroke="#1d1d1d" stroke-width="0.9" />
<line x1="431.38" y1="556.72" x2="431.38" y2="560.12" stroke="#1d1d1d" stroke-width="1.6" />
<line x1="436.25" y1="556.72" x2="436.25" y2="560.12" stroke="#1d1d1d" stroke-width="1.6" />
<line x1="442.10" y1="556.72" x2="442.10" y2="560.12" stroke="#1d1d1d" stroke-width="1.6" />
<line x1="426.50" y1="562.95" x2="446.00" y2="562.95" stroke="#1d1d1d" stroke-width="0.9" />
<line x1="431.38" y1="561.35" x2="431.38" y2="564.75" stroke="#1d1d1d" stroke-width="1.6" />
<line x1="436.25" y1="561.35" x2="436.25" y2="564.75" stroke="#1d1d1d" stroke-width="1.6" />
<line x1="442.10" y1="561.35" x2="442.10" y2="564.75" stroke="#1d1d1d" stroke-width="1.6" />
<line x1="426.50" y1="567.59" x2="446.00" y2="567.59" stroke="#1d1d1d" stroke-width="0.9" />
<line x1="431.38" y1="565.99" x2="431.38" y2="569.39" stroke="#1d1d1d" stroke-width="1.6" />
<line x1="436.25" y1="565.99" x2="436.25" y2="569.39" stroke="#1d1d1d" stroke-width="1.6" />
<line x1="442.10" y1="565.99" x2="442.10" y2="569.39" stroke="#1d1d1d" stroke-width="1.6" />
<line x1="426.50" y1="572.23" x2="446.00" y2="572.23" stroke="#1d1d1d" stroke-width="0.9" />
<line x1="431.38" y1="570.63" x2="431.38" y2="574.03" stroke="#1d1d1d" stroke-width="1.6" />
<line x1="436.25" y1="570.63" x2="436.25" y2="574.03" stroke="#1d1d1d" stroke-width="1.6" />
<line x1="442.10" y1="570.63" x2="442.10" y2="574.03" stroke="#1d1d1d" stroke-width="1.6" />
<line x1="426.50" y1="576.86" x2="446.00" y2="576.86" stroke="#1d1d1d" stroke-width="0.9" />
<line x1="431.38" y1="575.26" x2="431.38" y2="578.66" stroke="#1d1d1d" stroke-width="1.6" />
<line x1="436.25" y1="575.26" x2="436.25" y2="578.66" stroke="#1d1d1d" stroke-width="1.6" />
<line x1="442.10" y1="575.26" x2="442.10" y2="578.66" stroke="#1d1d1d" stroke-width="1.6" />
<line x1="426.50" y1="581.50" x2="446.00" y2="581.50" stroke="#1d1d1d" stroke-width="0.9" />
<line x1="431.38" y1="579.90" x2="431.38" y2="583.30" stroke="#1d1d1d" stroke-width="1.6" />
<line x1="436.25" y1="579.90" x2="436.25" y2="583.30" stroke="#1d1d1d" stroke-width="1.6" />
<line x1="442.10" y1="579.90" x2="442.10" y2="583.30" stroke="#1d1d1d" stroke-width="1.6" />
<line x1="426.50" y1="586.14" x2="446.00" y2="586.14" stroke="#1d1d1d" stroke-width="0.9" />
<line x1="431.38" y1="584.54" x2="431.38" y2="587.94" stroke="#1d1d1d" stroke-width="1.6" />
<line x1="436.25" y1="584.54" x2="436.25" y2="587.94" stroke="#1d1d1d" stroke-width="1.6" />
<line x1="442.10" y1="584.54" x2="442.10" y2="587.94" stroke="#1d1d1d" stroke-width="1.6" />
<line x1="426.50" y1="590.77" x2="446.00" y2="590.77" stroke="#1d1d1d" stroke-width="0.9" />
<line x1="431.38" y1="589.17" x2="431.38" y2="592.57" stroke="#1d1d1d" stroke-width="1.6" />
<line x1="436.25" y1="589.17" x2="436.25" y2="592.57" stroke="#1d1d1d" stroke-width="1.6" />
<line x1="442.10" y1="589.17" x2="442.10" y2="592.57" stroke="#1d1d1d" stroke-width="1.6" />
<line x1="426.50" y1="595.41" x2="446.00" y2="595.41" stroke="#1d1d1d" stroke-width="0.9" />
<line x1="431.38" y1="593.81" x2="431.38" y2="597.21" stroke="#1d1d1d" stroke-width="1.6" />
<line x1="436.25" y1="593.81" x2="436.25" y2="597.21" stroke="#1d1d1d" stroke-width="1.6" />
<line x1="442.10" y1="593.81" x2="442.10" y2="597.21" stroke="#1d1d1d" stroke-width="1.6" />
<line x1="426.50" y1="600.05" x2="446.00" y2="600.05" stroke="#1d1d1d" stroke-width="0.9" />
<line x1="431.38" y1="598.45" x2="431.38" y2="601.85" stroke="#1d1d1d" stroke-width="1.6" />
<line x1="436.25" y1="598.45" x2="436.25" y2="601.85" stroke="#1d1d1d" stroke-width="1.6" />
<line x1="442.10" y1="598.45" x2="442.10" y2="601.85" stroke="#1d1d1d" stroke-width="1.6" />
<line x1="426.50" y1="604.68" x2="446.00" y2="604.68" stroke="#1d1d1d" stroke-width="0.9" />
<line x1="431.38" y1="603.08" x2="431.38" y2="606.48" stroke="#1d1d1d" stroke-width="1.6" />
<line x1="436.25" y1="603.08" x2="436.25" y2="606.48" stroke="#1d1d1d" stroke-width="1.6" />
<line x1="442.10" y1="603.08" x2="442.10" y2="606.48" stroke="#1d1d1d" stroke-width="1.6" />
<line x1="419.00" y1="612.92" x2="440.00" y2="612.92" stroke="#1d1d1d" stroke-width="0.9" />
<line x1="424.25" y1="611.32" x2="424.25" y2="614.72" stroke="#1d1d1d" stroke-width="1.6" />
<line x1="429.50" y1="611.32" x2="429.50" y2="614.72" stroke="#1d1d1d" stroke-width="1.6" />
<line x1="435.80" y1="611.32" x2="435.80" y2="614.72" stroke="#1d1d1d" stroke-width="1.6" />
<line x1="419.00" y1="616.75" x2="440.00" y2="616.75" stroke="#1d1d1d" stroke-width="0.9" />
<line x1="424.25" y1="615.15" x2="424.25" y2="618.55" stroke="#1d1d1d" stroke-width="1.6" />
<line x1="429.50" y1="615.15" x2="429.50" y2="618.55" stroke="#1d1d1d" stroke-width="1.6" />
<line x1="435.80" y1="615.15" x2="435.80" y2="618.55" stroke="#1d1d1d" stroke-width="1.6" />
<line x1="419.00" y1="620.58" x2="440.00" y2="620.58" stroke="#1d1d1d" stroke-width="0.9" />
<line x1="424.25" y1="618.98" x2="424.25" y2="622.38" stroke="#1d1d1d" stroke-width="1.6" />
<line x1="429.50" y1="618.98" x2="429.50" y2="622.38" stroke="#1d1d1d" stroke-width="1.6" />
<line x1="435.80" y1="618.98" x2="435.80" y2="622.38" stroke="#1d1d1d" stroke-width="1.6" />
<line x1="419.00" y1="624.42" x2="440.00" y2="624.42" stroke="#1d1d1d" stroke-width="0.9" />
<line x1="424.25" y1="622.82" x2="424.25" y2="626.22" stroke="#1d1d1d" stroke-width="1.6" />
<line x1="429.50" y1="622.82" x2="429.50" y2="626.22" stroke="#1d1d1d" stroke-width="1.6" />
<line x1="435.80" y1="622.82" x2="435.80" y2="626.22" stroke="#1d1d1d" stroke-width="1.6" />
<line x1="419.00" y1="628.25" x2="440.00" y2="628.25" stroke="#1d1d1d" stroke-width="0.9" />
<line x1="424.25" y1="626.65" x2="424.25" y2="630.05" stroke="#1d1d1d" stroke-width="1.6" />
<line x1="429.50" y1="626.65" x2="429.50" y2="630.05" stroke="#1d1d1d" stroke-width="1.6" />
<line x1="435.80" y1="626.65" x2="435.80" y2="630.05" stroke="#1d1d1d" stroke-width="1.6" />
<line x1="419.00" y1="632.08" x2="440.00" y2="632.08" stroke="#1d1d1d" stroke-width="0.9" />
<line x1="424.25" y1="630.48" x2="424.25" y2="633.88" stroke="#1d1d1d" stroke-width="1.6" />
<line x1="429.50" y1="630.48" x2="429.50" y2="633.88" stroke="#1d1d1d" stroke-width="1.6" />
<line x1="435.80" y1="630.48" x2="435.80" y2="633.88" stroke="#1d1d1d" stroke-width="1.6" />
<rect x="449" y="554.5" width="24.5" height="56.5" fill="#fff" stroke="#1b1b1b" stroke-width="1.6"/>
<line x1="451.00" y1="562.50" x2="462.48" y2="562.50" stroke="#555" stroke-width="0.6" />
<line x1="451.00" y1="566.21" x2="462.48" y2="566.21" stroke="#555" stroke-width="0.6" />
<line x1="451.00" y1="569.92" x2="462.48" y2="569.92" stroke="#555" stroke-width="0.6" />
<line x1="451.00" y1="573.62" x2="462.48" y2="573.62" stroke="#555" stroke-width="0.6" />
<line x1="451.00" y1="577.33" x2="462.48" y2="577.33" stroke="#555" stroke-width="0.6" />
<line x1="451.00" y1="581.04" x2="462.48" y2="581.04" stroke="#555" stroke-width="0.6" />
<line x1="451.00" y1="584.75" x2="462.48" y2="584.75" stroke="#555" stroke-width="0.6" />
<line x1="451.00" y1="588.46" x2="462.48" y2="588.46" stroke="#555" stroke-width="0.6" />
<line x1="451.00" y1="592.17" x2="462.48" y2="592.17" stroke="#555" stroke-width="0.6" />
<line x1="451.00" y1="595.88" x2="462.48" y2="595.88" stroke="#555" stroke-width="0.6" />
<line x1="451.00" y1="599.58" x2="462.48" y2="599.58" stroke="#555" stroke-width="0.6" />
<line x1="451.00" y1="603.29" x2="462.48" y2="603.29" stroke="#555" stroke-width="0.6" />
<rect x="463.975" y="572.5" width="7.024999999999977" height="23.7" fill="#fff" stroke="#444" stroke-width="0.8"/>
<path d="M463.975 572.5L471.0 596.2M471.0 572.5L463.975 596.2" stroke="#999" stroke-width="0.5"/>
<path d="M455 588.5L460.475 582.5" stroke="#1b1b1b" stroke-width="1.6"/>
<line x1="451.20" y1="554.50" x2="451.20" y2="611.00" stroke="#1b1b1b" stroke-width="1.2" />
<rect x="441" y="610" width="32.5" height="26" fill="#fff" stroke="#1b1b1b" stroke-width="2.2"/>
<rect x="453" y="614" width="16.5" height="18" fill="#fff" stroke="#1b1b1b" stroke-width="1.4"/>
<path d="M453 623.5H469.5M461.2 614V632" stroke="#1b1b1b" stroke-width="1"/>
<line x1="448.50" y1="611.00" x2="448.50" y2="636.00" stroke="#1b1b1b" stroke-width="1.8" />
<text x="256.00" y="644.20" font-size="26" font-weight="bold" fill="#E3262B" text-anchor="start" textLength="143.0" lengthAdjust="spacingAndGlyphs" >ASCENSOR</text>
<rect x="1427.5" y="546" width="75.5" height="98" fill="none" stroke="#D9434B" stroke-width="1.8"/>
<rect x="1454" y="554.5" width="26.5" height="56.5" fill="#fff" stroke="#1b1b1b" stroke-width="1.6"/>
<line x1="1456.00" y1="562.50" x2="1468.58" y2="562.50" stroke="#555" stroke-width="0.6" />
<line x1="1456.00" y1="566.21" x2="1468.58" y2="566.21" stroke="#555" stroke-width="0.6" />
<line x1="1456.00" y1="569.92" x2="1468.58" y2="569.92" stroke="#555" stroke-width="0.6" />
<line x1="1456.00" y1="573.62" x2="1468.58" y2="573.62" stroke="#555" stroke-width="0.6" />
<line x1="1456.00" y1="577.33" x2="1468.58" y2="577.33" stroke="#555" stroke-width="0.6" />
<line x1="1456.00" y1="581.04" x2="1468.58" y2="581.04" stroke="#555" stroke-width="0.6" />
<line x1="1456.00" y1="584.75" x2="1468.58" y2="584.75" stroke="#555" stroke-width="0.6" />
<line x1="1456.00" y1="588.46" x2="1468.58" y2="588.46" stroke="#555" stroke-width="0.6" />
<line x1="1456.00" y1="592.17" x2="1468.58" y2="592.17" stroke="#555" stroke-width="0.6" />
<line x1="1456.00" y1="595.88" x2="1468.58" y2="595.88" stroke="#555" stroke-width="0.6" />
<line x1="1456.00" y1="599.58" x2="1468.58" y2="599.58" stroke="#555" stroke-width="0.6" />
<line x1="1456.00" y1="603.29" x2="1468.58" y2="603.29" stroke="#555" stroke-width="0.6" />
<rect x="1470.075" y="572.5" width="7.9249999999999545" height="23.7" fill="#fff" stroke="#444" stroke-width="0.8"/>
<path d="M1470.075 572.5L1478.0 596.2M1478.0 572.5L1470.075 596.2" stroke="#999" stroke-width="0.5"/>
<path d="M1460 588.5L1466.575 582.5" stroke="#1b1b1b" stroke-width="1.6"/>
<line x1="1456.20" y1="554.50" x2="1456.20" y2="611.00" stroke="#1b1b1b" stroke-width="1.2" />
<rect x="1447" y="610" width="33.5" height="25.5" fill="#fff" stroke="#1b1b1b" stroke-width="2.2"/>
<rect x="1458" y="614" width="18.5" height="17.5" fill="#fff" stroke="#1b1b1b" stroke-width="1.4"/>
<path d="M1458 623.2H1476.5M1467.2 614V631.5" stroke="#1b1b1b" stroke-width="1"/>
<line x1="1453.50" y1="611.00" x2="1453.50" y2="635.50" stroke="#1b1b1b" stroke-width="1.8" />
<text x="1276.00" y="570.50" font-size="26" font-weight="bold" fill="#E3262B" text-anchor="start" textLength="144.0" lengthAdjust="spacingAndGlyphs" >ASCENSOR</text>
<rect x="1311" y="579" width="31" height="32.5" fill="#fff" stroke="#1b1b1b" stroke-width="2.8"/>
<path d="M1317.5 580V611M1317.5 585H1341" fill="none" stroke="#1b1b1b" stroke-width="2.4"/>
<rect x="1323.00" y="609.00" width="11.00" height="5.00" fill="#fff" />
<line x1="1333.50" y1="611.00" x2="1333.50" y2="621.00" stroke="#1b1b1b" stroke-width="1" />
<g stroke="#1d1d1d" stroke-width="0.9">
<line x1="1144.22" y1="572.00" x2="1144.22" y2="588.00" stroke="#1d1d1d" stroke-width="0.9" />
<line x1="1142.62" y1="576.00" x2="1146.02" y2="576.00" stroke="#1d1d1d" stroke-width="1.6" />
<line x1="1142.62" y1="579.20" x2="1146.02" y2="579.20" stroke="#1d1d1d" stroke-width="1.6" />
<line x1="1142.62" y1="584.48" x2="1146.02" y2="584.48" stroke="#1d1d1d" stroke-width="1.6" />
<line x1="1149.67" y1="572.00" x2="1149.67" y2="588.00" stroke="#1d1d1d" stroke-width="0.9" />
<line x1="1148.07" y1="576.00" x2="1151.47" y2="576.00" stroke="#1d1d1d" stroke-width="1.6" />
<line x1="1148.07" y1="579.20" x2="1151.47" y2="579.20" stroke="#1d1d1d" stroke-width="1.6" />
<line x1="1148.07" y1="584.48" x2="1151.47" y2="584.48" stroke="#1d1d1d" stroke-width="1.6" />
<line x1="1155.12" y1="572.00" x2="1155.12" y2="588.00" stroke="#1d1d1d" stroke-width="0.9" />
<line x1="1153.52" y1="576.00" x2="1156.92" y2="576.00" stroke="#1d1d1d" stroke-width="1.6" />
<line x1="1153.52" y1="579.20" x2="1156.92" y2="579.20" stroke="#1d1d1d" stroke-width="1.6" />
<line x1="1153.52" y1="584.48" x2="1156.92" y2="584.48" stroke="#1d1d1d" stroke-width="1.6" />
<line x1="1160.57" y1="572.00" x2="1160.57" y2="588.00" stroke="#1d1d1d" stroke-width="0.9" />
<line x1="1158.97" y1="576.00" x2="1162.37" y2="576.00" stroke="#1d1d1d" stroke-width="1.6" />
<line x1="1158.97" y1="579.20" x2="1162.37" y2="579.20" stroke="#1d1d1d" stroke-width="1.6" />
<line x1="1158.97" y1="584.48" x2="1162.37" y2="584.48" stroke="#1d1d1d" stroke-width="1.6" />
<line x1="1166.01" y1="572.00" x2="1166.01" y2="588.00" stroke="#1d1d1d" stroke-width="0.9" />
<line x1="1164.41" y1="576.00" x2="1167.81" y2="576.00" stroke="#1d1d1d" stroke-width="1.6" />
<line x1="1164.41" y1="579.20" x2="1167.81" y2="579.20" stroke="#1d1d1d" stroke-width="1.6" />
<line x1="1164.41" y1="584.48" x2="1167.81" y2="584.48" stroke="#1d1d1d" stroke-width="1.6" />
<line x1="1171.46" y1="572.00" x2="1171.46" y2="588.00" stroke="#1d1d1d" stroke-width="0.9" />
<line x1="1169.86" y1="576.00" x2="1173.26" y2="576.00" stroke="#1d1d1d" stroke-width="1.6" />
<line x1="1169.86" y1="579.20" x2="1173.26" y2="579.20" stroke="#1d1d1d" stroke-width="1.6" />
<line x1="1169.86" y1="584.48" x2="1173.26" y2="584.48" stroke="#1d1d1d" stroke-width="1.6" />
<line x1="1176.91" y1="572.00" x2="1176.91" y2="588.00" stroke="#1d1d1d" stroke-width="0.9" />
<line x1="1175.31" y1="576.00" x2="1178.71" y2="576.00" stroke="#1d1d1d" stroke-width="1.6" />
<line x1="1175.31" y1="579.20" x2="1178.71" y2="579.20" stroke="#1d1d1d" stroke-width="1.6" />
<line x1="1175.31" y1="584.48" x2="1178.71" y2="584.48" stroke="#1d1d1d" stroke-width="1.6" />
<line x1="1182.36" y1="572.00" x2="1182.36" y2="588.00" stroke="#1d1d1d" stroke-width="0.9" />
<line x1="1180.76" y1="576.00" x2="1184.16" y2="576.00" stroke="#1d1d1d" stroke-width="1.6" />
<line x1="1180.76" y1="579.20" x2="1184.16" y2="579.20" stroke="#1d1d1d" stroke-width="1.6" />
<line x1="1180.76" y1="584.48" x2="1184.16" y2="584.48" stroke="#1d1d1d" stroke-width="1.6" />
<line x1="1187.80" y1="572.00" x2="1187.80" y2="588.00" stroke="#1d1d1d" stroke-width="0.9" />
<line x1="1186.20" y1="576.00" x2="1189.60" y2="576.00" stroke="#1d1d1d" stroke-width="1.6" />
<line x1="1186.20" y1="579.20" x2="1189.60" y2="579.20" stroke="#1d1d1d" stroke-width="1.6" />
<line x1="1186.20" y1="584.48" x2="1189.60" y2="584.48" stroke="#1d1d1d" stroke-width="1.6" />
<line x1="1193.25" y1="572.00" x2="1193.25" y2="588.00" stroke="#1d1d1d" stroke-width="0.9" />
<line x1="1191.65" y1="576.00" x2="1195.05" y2="576.00" stroke="#1d1d1d" stroke-width="1.6" />
<line x1="1191.65" y1="579.20" x2="1195.05" y2="579.20" stroke="#1d1d1d" stroke-width="1.6" />
<line x1="1191.65" y1="584.48" x2="1195.05" y2="584.48" stroke="#1d1d1d" stroke-width="1.6" />
<line x1="1198.70" y1="572.00" x2="1198.70" y2="588.00" stroke="#1d1d1d" stroke-width="0.9" />
<line x1="1197.10" y1="576.00" x2="1200.50" y2="576.00" stroke="#1d1d1d" stroke-width="1.6" />
<line x1="1197.10" y1="579.20" x2="1200.50" y2="579.20" stroke="#1d1d1d" stroke-width="1.6" />
<line x1="1197.10" y1="584.48" x2="1200.50" y2="584.48" stroke="#1d1d1d" stroke-width="1.6" />
<line x1="1204.14" y1="572.00" x2="1204.14" y2="588.00" stroke="#1d1d1d" stroke-width="0.9" />
<line x1="1202.54" y1="576.00" x2="1205.94" y2="576.00" stroke="#1d1d1d" stroke-width="1.6" />
<line x1="1202.54" y1="579.20" x2="1205.94" y2="579.20" stroke="#1d1d1d" stroke-width="1.6" />
<line x1="1202.54" y1="584.48" x2="1205.94" y2="584.48" stroke="#1d1d1d" stroke-width="1.6" />
<line x1="1209.59" y1="572.00" x2="1209.59" y2="588.00" stroke="#1d1d1d" stroke-width="0.9" />
<line x1="1207.99" y1="576.00" x2="1211.39" y2="576.00" stroke="#1d1d1d" stroke-width="1.6" />
<line x1="1207.99" y1="579.20" x2="1211.39" y2="579.20" stroke="#1d1d1d" stroke-width="1.6" />
<line x1="1207.99" y1="584.48" x2="1211.39" y2="584.48" stroke="#1d1d1d" stroke-width="1.6" />
<line x1="1215.04" y1="572.00" x2="1215.04" y2="588.00" stroke="#1d1d1d" stroke-width="0.9" />
<line x1="1213.44" y1="576.00" x2="1216.84" y2="576.00" stroke="#1d1d1d" stroke-width="1.6" />
<line x1="1213.44" y1="579.20" x2="1216.84" y2="579.20" stroke="#1d1d1d" stroke-width="1.6" />
<line x1="1213.44" y1="584.48" x2="1216.84" y2="584.48" stroke="#1d1d1d" stroke-width="1.6" />
<line x1="1220.49" y1="572.00" x2="1220.49" y2="588.00" stroke="#1d1d1d" stroke-width="0.9" />
<line x1="1218.89" y1="576.00" x2="1222.29" y2="576.00" stroke="#1d1d1d" stroke-width="1.6" />
<line x1="1218.89" y1="579.20" x2="1222.29" y2="579.20" stroke="#1d1d1d" stroke-width="1.6" />
<line x1="1218.89" y1="584.48" x2="1222.29" y2="584.48" stroke="#1d1d1d" stroke-width="1.6" />
<line x1="1225.93" y1="572.00" x2="1225.93" y2="588.00" stroke="#1d1d1d" stroke-width="0.9" />
<line x1="1224.33" y1="576.00" x2="1227.73" y2="576.00" stroke="#1d1d1d" stroke-width="1.6" />
<line x1="1224.33" y1="579.20" x2="1227.73" y2="579.20" stroke="#1d1d1d" stroke-width="1.6" />
<line x1="1224.33" y1="584.48" x2="1227.73" y2="584.48" stroke="#1d1d1d" stroke-width="1.6" />
<line x1="1231.38" y1="572.00" x2="1231.38" y2="588.00" stroke="#1d1d1d" stroke-width="0.9" />
<line x1="1229.78" y1="576.00" x2="1233.18" y2="576.00" stroke="#1d1d1d" stroke-width="1.6" />
<line x1="1229.78" y1="579.20" x2="1233.18" y2="579.20" stroke="#1d1d1d" stroke-width="1.6" />
<line x1="1229.78" y1="584.48" x2="1233.18" y2="584.48" stroke="#1d1d1d" stroke-width="1.6" />
<line x1="1236.83" y1="572.00" x2="1236.83" y2="588.00" stroke="#1d1d1d" stroke-width="0.9" />
<line x1="1235.23" y1="576.00" x2="1238.63" y2="576.00" stroke="#1d1d1d" stroke-width="1.6" />
<line x1="1235.23" y1="579.20" x2="1238.63" y2="579.20" stroke="#1d1d1d" stroke-width="1.6" />
<line x1="1235.23" y1="584.48" x2="1238.63" y2="584.48" stroke="#1d1d1d" stroke-width="1.6" />
<line x1="1242.28" y1="572.00" x2="1242.28" y2="588.00" stroke="#1d1d1d" stroke-width="0.9" />
<line x1="1240.68" y1="576.00" x2="1244.08" y2="576.00" stroke="#1d1d1d" stroke-width="1.6" />
<line x1="1240.68" y1="579.20" x2="1244.08" y2="579.20" stroke="#1d1d1d" stroke-width="1.6" />
<line x1="1240.68" y1="584.48" x2="1244.08" y2="584.48" stroke="#1d1d1d" stroke-width="1.6" />
</g>
<g stroke="#1d1d1d" stroke-width="0.9">
<line x1="1144.22" y1="597.00" x2="1144.22" y2="614.00" stroke="#1d1d1d" stroke-width="0.9" />
<line x1="1142.62" y1="601.25" x2="1146.02" y2="601.25" stroke="#1d1d1d" stroke-width="1.6" />
<line x1="1142.62" y1="604.65" x2="1146.02" y2="604.65" stroke="#1d1d1d" stroke-width="1.6" />
<line x1="1142.62" y1="610.26" x2="1146.02" y2="610.26" stroke="#1d1d1d" stroke-width="1.6" />
<line x1="1149.67" y1="597.00" x2="1149.67" y2="614.00" stroke="#1d1d1d" stroke-width="0.9" />
<line x1="1148.07" y1="601.25" x2="1151.47" y2="601.25" stroke="#1d1d1d" stroke-width="1.6" />
<line x1="1148.07" y1="604.65" x2="1151.47" y2="604.65" stroke="#1d1d1d" stroke-width="1.6" />
<line x1="1148.07" y1="610.26" x2="1151.47" y2="610.26" stroke="#1d1d1d" stroke-width="1.6" />
<line x1="1155.12" y1="597.00" x2="1155.12" y2="614.00" stroke="#1d1d1d" stroke-width="0.9" />
<line x1="1153.52" y1="601.25" x2="1156.92" y2="601.25" stroke="#1d1d1d" stroke-width="1.6" />
<line x1="1153.52" y1="604.65" x2="1156.92" y2="604.65" stroke="#1d1d1d" stroke-width="1.6" />
<line x1="1153.52" y1="610.26" x2="1156.92" y2="610.26" stroke="#1d1d1d" stroke-width="1.6" />
<line x1="1160.57" y1="597.00" x2="1160.57" y2="614.00" stroke="#1d1d1d" stroke-width="0.9" />
<line x1="1158.97" y1="601.25" x2="1162.37" y2="601.25" stroke="#1d1d1d" stroke-width="1.6" />
<line x1="1158.97" y1="604.65" x2="1162.37" y2="604.65" stroke="#1d1d1d" stroke-width="1.6" />
<line x1="1158.97" y1="610.26" x2="1162.37" y2="610.26" stroke="#1d1d1d" stroke-width="1.6" />
<line x1="1166.01" y1="597.00" x2="1166.01" y2="614.00" stroke="#1d1d1d" stroke-width="0.9" />
<line x1="1164.41" y1="601.25" x2="1167.81" y2="601.25" stroke="#1d1d1d" stroke-width="1.6" />
<line x1="1164.41" y1="604.65" x2="1167.81" y2="604.65" stroke="#1d1d1d" stroke-width="1.6" />
<line x1="1164.41" y1="610.26" x2="1167.81" y2="610.26" stroke="#1d1d1d" stroke-width="1.6" />
<line x1="1171.46" y1="597.00" x2="1171.46" y2="614.00" stroke="#1d1d1d" stroke-width="0.9" />
<line x1="1169.86" y1="601.25" x2="1173.26" y2="601.25" stroke="#1d1d1d" stroke-width="1.6" />
<line x1="1169.86" y1="604.65" x2="1173.26" y2="604.65" stroke="#1d1d1d" stroke-width="1.6" />
<line x1="1169.86" y1="610.26" x2="1173.26" y2="610.26" stroke="#1d1d1d" stroke-width="1.6" />
<line x1="1176.91" y1="597.00" x2="1176.91" y2="614.00" stroke="#1d1d1d" stroke-width="0.9" />
<line x1="1175.31" y1="601.25" x2="1178.71" y2="601.25" stroke="#1d1d1d" stroke-width="1.6" />
<line x1="1175.31" y1="604.65" x2="1178.71" y2="604.65" stroke="#1d1d1d" stroke-width="1.6" />
<line x1="1175.31" y1="610.26" x2="1178.71" y2="610.26" stroke="#1d1d1d" stroke-width="1.6" />
<line x1="1182.36" y1="597.00" x2="1182.36" y2="614.00" stroke="#1d1d1d" stroke-width="0.9" />
<line x1="1180.76" y1="601.25" x2="1184.16" y2="601.25" stroke="#1d1d1d" stroke-width="1.6" />
<line x1="1180.76" y1="604.65" x2="1184.16" y2="604.65" stroke="#1d1d1d" stroke-width="1.6" />
<line x1="1180.76" y1="610.26" x2="1184.16" y2="610.26" stroke="#1d1d1d" stroke-width="1.6" />
<line x1="1187.80" y1="597.00" x2="1187.80" y2="614.00" stroke="#1d1d1d" stroke-width="0.9" />
<line x1="1186.20" y1="601.25" x2="1189.60" y2="601.25" stroke="#1d1d1d" stroke-width="1.6" />
<line x1="1186.20" y1="604.65" x2="1189.60" y2="604.65" stroke="#1d1d1d" stroke-width="1.6" />
<line x1="1186.20" y1="610.26" x2="1189.60" y2="610.26" stroke="#1d1d1d" stroke-width="1.6" />
<line x1="1193.25" y1="597.00" x2="1193.25" y2="614.00" stroke="#1d1d1d" stroke-width="0.9" />
<line x1="1191.65" y1="601.25" x2="1195.05" y2="601.25" stroke="#1d1d1d" stroke-width="1.6" />
<line x1="1191.65" y1="604.65" x2="1195.05" y2="604.65" stroke="#1d1d1d" stroke-width="1.6" />
<line x1="1191.65" y1="610.26" x2="1195.05" y2="610.26" stroke="#1d1d1d" stroke-width="1.6" />
<line x1="1198.70" y1="597.00" x2="1198.70" y2="614.00" stroke="#1d1d1d" stroke-width="0.9" />
<line x1="1197.10" y1="601.25" x2="1200.50" y2="601.25" stroke="#1d1d1d" stroke-width="1.6" />
<line x1="1197.10" y1="604.65" x2="1200.50" y2="604.65" stroke="#1d1d1d" stroke-width="1.6" />
<line x1="1197.10" y1="610.26" x2="1200.50" y2="610.26" stroke="#1d1d1d" stroke-width="1.6" />
<line x1="1204.14" y1="597.00" x2="1204.14" y2="614.00" stroke="#1d1d1d" stroke-width="0.9" />
<line x1="1202.54" y1="601.25" x2="1205.94" y2="601.25" stroke="#1d1d1d" stroke-width="1.6" />
<line x1="1202.54" y1="604.65" x2="1205.94" y2="604.65" stroke="#1d1d1d" stroke-width="1.6" />
<line x1="1202.54" y1="610.26" x2="1205.94" y2="610.26" stroke="#1d1d1d" stroke-width="1.6" />
<line x1="1209.59" y1="597.00" x2="1209.59" y2="614.00" stroke="#1d1d1d" stroke-width="0.9" />
<line x1="1207.99" y1="601.25" x2="1211.39" y2="601.25" stroke="#1d1d1d" stroke-width="1.6" />
<line x1="1207.99" y1="604.65" x2="1211.39" y2="604.65" stroke="#1d1d1d" stroke-width="1.6" />
<line x1="1207.99" y1="610.26" x2="1211.39" y2="610.26" stroke="#1d1d1d" stroke-width="1.6" />
<line x1="1215.04" y1="597.00" x2="1215.04" y2="614.00" stroke="#1d1d1d" stroke-width="0.9" />
<line x1="1213.44" y1="601.25" x2="1216.84" y2="601.25" stroke="#1d1d1d" stroke-width="1.6" />
<line x1="1213.44" y1="604.65" x2="1216.84" y2="604.65" stroke="#1d1d1d" stroke-width="1.6" />
<line x1="1213.44" y1="610.26" x2="1216.84" y2="610.26" stroke="#1d1d1d" stroke-width="1.6" />
<line x1="1220.49" y1="597.00" x2="1220.49" y2="614.00" stroke="#1d1d1d" stroke-width="0.9" />
<line x1="1218.89" y1="601.25" x2="1222.29" y2="601.25" stroke="#1d1d1d" stroke-width="1.6" />
<line x1="1218.89" y1="604.65" x2="1222.29" y2="604.65" stroke="#1d1d1d" stroke-width="1.6" />
<line x1="1218.89" y1="610.26" x2="1222.29" y2="610.26" stroke="#1d1d1d" stroke-width="1.6" />
<line x1="1225.93" y1="597.00" x2="1225.93" y2="614.00" stroke="#1d1d1d" stroke-width="0.9" />
<line x1="1224.33" y1="601.25" x2="1227.73" y2="601.25" stroke="#1d1d1d" stroke-width="1.6" />
<line x1="1224.33" y1="604.65" x2="1227.73" y2="604.65" stroke="#1d1d1d" stroke-width="1.6" />
<line x1="1224.33" y1="610.26" x2="1227.73" y2="610.26" stroke="#1d1d1d" stroke-width="1.6" />
<line x1="1231.38" y1="597.00" x2="1231.38" y2="614.00" stroke="#1d1d1d" stroke-width="0.9" />
<line x1="1229.78" y1="601.25" x2="1233.18" y2="601.25" stroke="#1d1d1d" stroke-width="1.6" />
<line x1="1229.78" y1="604.65" x2="1233.18" y2="604.65" stroke="#1d1d1d" stroke-width="1.6" />
<line x1="1229.78" y1="610.26" x2="1233.18" y2="610.26" stroke="#1d1d1d" stroke-width="1.6" />
<line x1="1236.83" y1="597.00" x2="1236.83" y2="614.00" stroke="#1d1d1d" stroke-width="0.9" />
<line x1="1235.23" y1="601.25" x2="1238.63" y2="601.25" stroke="#1d1d1d" stroke-width="1.6" />
<line x1="1235.23" y1="604.65" x2="1238.63" y2="604.65" stroke="#1d1d1d" stroke-width="1.6" />
<line x1="1235.23" y1="610.26" x2="1238.63" y2="610.26" stroke="#1d1d1d" stroke-width="1.6" />
<line x1="1242.28" y1="597.00" x2="1242.28" y2="614.00" stroke="#1d1d1d" stroke-width="0.9" />
<line x1="1240.68" y1="601.25" x2="1244.08" y2="601.25" stroke="#1d1d1d" stroke-width="1.6" />
<line x1="1240.68" y1="604.65" x2="1244.08" y2="604.65" stroke="#1d1d1d" stroke-width="1.6" />
<line x1="1240.68" y1="610.26" x2="1244.08" y2="610.26" stroke="#1d1d1d" stroke-width="1.6" />
</g>
<circle cx="213" cy="543" r="1.3" fill="#888" stroke="#333" stroke-width="0.6"/>
<circle cx="347.5" cy="537.5" r="1.3" fill="#888" stroke="#333" stroke-width="0.6"/>
<circle cx="347.5" cy="651" r="1.3" fill="#888" stroke="#333" stroke-width="0.6"/>
<circle cx="213" cy="651" r="1.3" fill="#888" stroke="#333" stroke-width="0.6"/>
<circle cx="490.5" cy="537" r="1.3" fill="#888" stroke="#333" stroke-width="0.6"/>
<circle cx="490.5" cy="556" r="1.3" fill="#888" stroke="#333" stroke-width="0.6"/>
<circle cx="490.5" cy="611" r="1.3" fill="#888" stroke="#333" stroke-width="0.6"/>
<circle cx="490.5" cy="633" r="1.3" fill="#888" stroke="#333" stroke-width="0.6"/>
<circle cx="490.5" cy="652" r="1.3" fill="#888" stroke="#333" stroke-width="0.6"/>
<circle cx="1210" cy="537" r="1.3" fill="#888" stroke="#333" stroke-width="0.6"/>
<circle cx="1210" cy="651" r="1.3" fill="#888" stroke="#333" stroke-width="0.6"/>
<circle cx="1353" cy="537" r="1.3" fill="#888" stroke="#333" stroke-width="0.6"/>
<circle cx="1353" cy="652" r="1.3" fill="#888" stroke="#333" stroke-width="0.6"/>
<circle cx="1496" cy="537" r="1.3" fill="#888" stroke="#333" stroke-width="0.6"/>
<circle cx="1496" cy="556" r="1.3" fill="#888" stroke="#333" stroke-width="0.6"/>
<circle cx="1496" cy="611" r="1.3" fill="#888" stroke="#333" stroke-width="0.6"/>
<circle cx="1496" cy="633" r="1.3" fill="#888" stroke="#333" stroke-width="0.6"/>
<circle cx="1496" cy="652" r="1.3" fill="#888" stroke="#333" stroke-width="0.6"/>
<rect x="805" y="421.5" width="199" height="47.5" fill="#fff" stroke="#111" stroke-width="2.6"/>
<text x="904.50" y="451.50" font-size="20" font-weight="normal" fill="#111" text-anchor="middle" textLength="186.0" lengthAdjust="spacingAndGlyphs" >20,00 m x 10,00 m</text>
<path d="M892 509A7 7 0 0 0 906 509M906 509A6 6 0 0 0 916 509" fill="#fff" stroke="#999" stroke-width="0.6"/>
<polygon points="800.69,552.69 795.00,553.15 796.80,558.56 791.77,555.87 790.35,561.40 787.58,556.41 783.39,560.29 783.76,554.60 778.14,555.61 781.52,551.01 776.25,548.82 781.58,546.78 778.33,542.09 783.92,543.26 783.72,537.56 787.79,541.56 790.71,536.65 791.96,542.22 797.07,539.67 795.12,545.04 800.79,545.65 796.25,549.11" fill="#87A550" opacity="0.92"/>
<circle cx="788.8" cy="549.0" r="3.8" fill="#5F7F35" opacity="0.55"/>
<polygon points="799.26,552.25 792.69,551.99 794.71,558.25 789.85,553.83 787.37,559.91 786.49,553.40 780.68,556.48 784.19,550.92 777.76,549.54 784.02,547.54 779.99,542.35 786.07,544.84 786.31,538.27 789.37,544.09 793.78,539.22 792.38,545.64 798.89,544.74 793.69,548.76" fill="#6F9040" opacity="0.92"/>
<circle cx="788.8" cy="549.0" r="3.3" fill="#5F7F35" opacity="0.55"/>
<polygon points="826.94,552.69 821.25,553.15 823.05,558.56 818.02,555.87 816.60,561.40 813.83,556.41 809.64,560.29 810.01,554.60 804.39,555.61 807.77,551.01 802.50,548.82 807.83,546.78 804.58,542.09 810.17,543.26 809.97,537.56 814.04,541.56 816.96,536.65 818.21,542.22 823.32,539.67 821.37,545.04 827.04,545.65 822.50,549.11" fill="#87A550" opacity="0.92"/>
<circle cx="815.0" cy="549.0" r="3.8" fill="#5F7F35" opacity="0.55"/>
<polygon points="825.51,552.25 818.94,551.99 820.96,558.25 816.10,553.83 813.62,559.91 812.74,553.40 806.93,556.48 810.44,550.92 804.01,549.54 810.27,547.54 806.24,542.35 812.32,544.84 812.56,538.27 815.62,544.09 820.03,539.22 818.63,545.64 825.14,544.74 819.94,548.76" fill="#6F9040" opacity="0.92"/>
<circle cx="815.0" cy="549.0" r="3.3" fill="#5F7F35" opacity="0.55"/>
<polygon points="854.44,552.69 848.75,553.15 850.55,558.56 845.52,555.87 844.10,561.40 841.33,556.41 837.14,560.29 837.51,554.60 831.89,555.61 835.27,551.01 830.00,548.82 835.33,546.78 832.08,542.09 837.67,543.26 837.47,537.56 841.54,541.56 844.46,536.65 845.71,542.22 850.82,539.67 848.87,545.04 854.54,545.65 850.00,549.11" fill="#87A550" opacity="0.92"/>
<circle cx="842.5" cy="549.0" r="3.8" fill="#5F7F35" opacity="0.55"/>
<polygon points="853.01,552.25 846.44,551.99 848.46,558.25 843.60,553.83 841.12,559.91 840.24,553.40 834.43,556.48 837.94,550.92 831.51,549.54 837.77,547.54 833.74,542.35 839.82,544.84 840.06,538.27 843.12,544.09 847.53,539.22 846.13,545.64 852.64,544.74 847.44,548.76" fill="#6F9040" opacity="0.92"/>
<circle cx="842.5" cy="549.0" r="3.3" fill="#5F7F35" opacity="0.55"/>
<polygon points="881.94,552.69 876.25,553.15 878.05,558.56 873.02,555.87 871.60,561.40 868.83,556.41 864.64,560.29 865.01,554.60 859.39,555.61 862.77,551.01 857.50,548.82 862.83,546.78 859.58,542.09 865.17,543.26 864.97,537.56 869.04,541.56 871.96,536.65 873.21,542.22 878.32,539.67 876.37,545.04 882.04,545.65 877.50,549.11" fill="#87A550" opacity="0.92"/>
<circle cx="870.0" cy="549.0" r="3.8" fill="#5F7F35" opacity="0.55"/>
<polygon points="880.51,552.25 873.94,551.99 875.96,558.25 871.10,553.83 868.62,559.91 867.74,553.40 861.93,556.48 865.44,550.92 859.01,549.54 865.27,547.54 861.24,542.35 867.32,544.84 867.56,538.27 870.62,544.09 875.03,539.22 873.63,545.64 880.14,544.74 874.94,548.76" fill="#6F9040" opacity="0.92"/>
<circle cx="870.0" cy="549.0" r="3.3" fill="#5F7F35" opacity="0.55"/>
<polygon points="911.94,552.69 906.25,553.15 908.05,558.56 903.02,555.87 901.60,561.40 898.83,556.41 894.64,560.29 895.01,554.60 889.39,555.61 892.77,551.01 887.50,548.82 892.83,546.78 889.58,542.09 895.17,543.26 894.97,537.56 899.04,541.56 901.96,536.65 903.21,542.22 908.32,539.67 906.37,545.04 912.04,545.65 907.50,549.11" fill="#87A550" opacity="0.92"/>
<circle cx="900.0" cy="549.0" r="3.8" fill="#5F7F35" opacity="0.55"/>
<polygon points="910.51,552.25 903.94,551.99 905.96,558.25 901.10,553.83 898.62,559.91 897.74,553.40 891.93,556.48 895.44,550.92 889.01,549.54 895.27,547.54 891.24,542.35 897.32,544.84 897.56,538.27 900.62,544.09 905.03,539.22 903.63,545.64 910.14,544.74 904.94,548.76" fill="#6F9040" opacity="0.92"/>
<circle cx="900.0" cy="549.0" r="3.3" fill="#5F7F35" opacity="0.55"/>
<polygon points="941.94,552.69 936.25,553.15 938.05,558.56 933.02,555.87 931.60,561.40 928.83,556.41 924.64,560.29 925.01,554.60 919.39,555.61 922.77,551.01 917.50,548.82 922.83,546.78 919.58,542.09 925.17,543.26 924.97,537.56 929.04,541.56 931.96,536.65 933.21,542.22 938.32,539.67 936.37,545.04 942.04,545.65 937.50,549.11" fill="#87A550" opacity="0.92"/>
<circle cx="930.0" cy="549.0" r="3.8" fill="#5F7F35" opacity="0.55"/>
<polygon points="940.51,552.25 933.94,551.99 935.96,558.25 931.10,553.83 928.62,559.91 927.74,553.40 921.93,556.48 925.44,550.92 919.01,549.54 925.27,547.54 921.24,542.35 927.32,544.84 927.56,538.27 930.62,544.09 935.03,539.22 933.63,545.64 940.14,544.74 934.94,548.76" fill="#6F9040" opacity="0.92"/>
<circle cx="930.0" cy="549.0" r="3.3" fill="#5F7F35" opacity="0.55"/>
<polygon points="972.94,552.69 967.25,553.15 969.05,558.56 964.02,555.87 962.60,561.40 959.83,556.41 955.64,560.29 956.01,554.60 950.39,555.61 953.77,551.01 948.50,548.82 953.83,546.78 950.58,542.09 956.17,543.26 955.97,537.56 960.04,541.56 962.96,536.65 964.21,542.22 969.32,539.67 967.37,545.04 973.04,545.65 968.50,549.11" fill="#87A550" opacity="0.92"/>
<circle cx="961.0" cy="549.0" r="3.8" fill="#5F7F35" opacity="0.55"/>
<polygon points="971.51,552.25 964.94,551.99 966.96,558.25 962.10,553.83 959.62,559.91 958.74,553.40 952.93,556.48 956.44,550.92 950.01,549.54 956.27,547.54 952.24,542.35 958.32,544.84 958.56,538.27 961.62,544.09 966.03,539.22 964.63,545.64 971.14,544.74 965.94,548.76" fill="#6F9040" opacity="0.92"/>
<circle cx="961.0" cy="549.0" r="3.3" fill="#5F7F35" opacity="0.55"/>
<polygon points="1005.69,552.69 1000.00,553.15 1001.80,558.56 996.77,555.87 995.35,561.40 992.58,556.41 988.39,560.29 988.76,554.60 983.14,555.61 986.52,551.01 981.25,548.82 986.58,546.78 983.33,542.09 988.92,543.26 988.72,537.56 992.79,541.56 995.71,536.65 996.96,542.22 1002.07,539.67 1000.12,545.04 1005.79,545.65 1001.25,549.11" fill="#87A550" opacity="0.92"/>
<circle cx="993.8" cy="549.0" r="3.8" fill="#5F7F35" opacity="0.55"/>
<polygon points="1004.26,552.25 997.69,551.99 999.71,558.25 994.85,553.83 992.37,559.91 991.49,553.40 985.68,556.48 989.19,550.92 982.76,549.54 989.02,547.54 984.99,542.35 991.07,544.84 991.31,538.27 994.37,544.09 998.78,539.22 997.38,545.64 1003.89,544.74 998.69,548.76" fill="#6F9040" opacity="0.92"/>
<circle cx="993.8" cy="549.0" r="3.3" fill="#5F7F35" opacity="0.55"/>
<polygon points="1039.44,552.69 1033.75,553.15 1035.55,558.56 1030.52,555.87 1029.10,561.40 1026.33,556.41 1022.14,560.29 1022.51,554.60 1016.89,555.61 1020.27,551.01 1015.00,548.82 1020.33,546.78 1017.08,542.09 1022.67,543.26 1022.47,537.56 1026.54,541.56 1029.46,536.65 1030.71,542.22 1035.82,539.67 1033.87,545.04 1039.54,545.65 1035.00,549.11" fill="#87A550" opacity="0.92"/>
<circle cx="1027.5" cy="549.0" r="3.8" fill="#5F7F35" opacity="0.55"/>
<polygon points="1038.01,552.25 1031.44,551.99 1033.46,558.25 1028.60,553.83 1026.12,559.91 1025.24,553.40 1019.43,556.48 1022.94,550.92 1016.51,549.54 1022.77,547.54 1018.74,542.35 1024.82,544.84 1025.06,538.27 1028.12,544.09 1032.53,539.22 1031.13,545.64 1037.64,544.74 1032.44,548.76" fill="#6F9040" opacity="0.92"/>
<circle cx="1027.5" cy="549.0" r="3.3" fill="#5F7F35" opacity="0.55"/>
<polygon points="800.33,810.43 793.50,810.97 795.66,817.48 789.62,814.24 787.92,820.88 784.59,814.89 779.57,819.55 780.01,812.72 773.27,813.93 777.33,808.41 771.00,805.78 777.40,803.34 773.50,797.71 780.20,799.11 779.97,792.27 784.85,797.07 788.35,791.18 789.86,797.87 795.99,794.81 793.64,801.24 800.45,801.98 795.00,806.13" fill="#87A550" opacity="0.92"/>
<circle cx="786.0" cy="806.0" r="4.5" fill="#5F7F35" opacity="0.55"/>
<polygon points="798.61,809.90 790.73,809.59 793.15,817.09 787.32,811.79 784.35,819.10 783.29,811.28 776.32,814.97 780.52,808.30 772.82,806.65 780.33,804.24 775.48,798.02 782.78,801.01 783.07,793.13 786.74,800.11 792.03,794.26 790.36,801.96 798.17,800.88 791.93,805.71" fill="#6F9040" opacity="0.92"/>
<circle cx="786.0" cy="806.0" r="4.0" fill="#5F7F35" opacity="0.55"/>
<polygon points="808.42,827.84 802.50,828.31 804.37,833.95 799.14,831.14 797.66,836.89 794.78,831.70 790.43,835.75 790.81,829.82 784.96,830.87 788.49,826.09 783.00,823.81 788.55,821.69 785.17,816.81 790.98,818.03 790.77,812.10 795.00,816.26 798.04,811.16 799.34,816.95 804.65,814.30 802.62,819.88 808.52,820.52 803.80,824.11" fill="#87A550" opacity="0.92"/>
<circle cx="796.0" cy="824.0" r="3.9" fill="#5F7F35" opacity="0.55"/>
<polygon points="806.93,827.38 800.10,827.11 802.20,833.61 797.14,829.02 794.57,835.35 793.65,828.58 787.61,831.77 791.25,826.00 784.57,824.56 791.08,822.48 786.89,817.09 793.21,819.67 793.46,812.84 796.64,818.89 801.23,813.82 799.78,820.50 806.55,819.56 801.14,823.75" fill="#6F9040" opacity="0.92"/>
<circle cx="796.0" cy="824.0" r="3.4" fill="#5F7F35" opacity="0.55"/>
<polygon points="828.42,831.84 822.50,832.31 824.37,837.95 819.14,835.14 817.66,840.89 814.78,835.70 810.43,839.75 810.81,833.82 804.96,834.87 808.49,830.09 803.00,827.81 808.55,825.69 805.17,820.81 810.98,822.03 810.77,816.10 815.00,820.26 818.04,815.16 819.34,820.95 824.65,818.30 822.62,823.88 828.52,824.52 823.80,828.11" fill="#87A550" opacity="0.92"/>
<circle cx="816.0" cy="828.0" r="3.9" fill="#5F7F35" opacity="0.55"/>
<polygon points="826.93,831.38 820.10,831.11 822.20,837.61 817.14,833.02 814.57,839.35 813.65,832.58 807.61,835.77 811.25,830.00 804.57,828.56 811.08,826.48 806.89,821.09 813.21,823.67 813.46,816.84 816.64,822.89 821.23,817.82 819.78,824.50 826.55,823.56 821.14,827.75" fill="#6F9040" opacity="0.92"/>
<circle cx="816.0" cy="828.0" r="3.4" fill="#5F7F35" opacity="0.55"/>
<polygon points="1044.33,810.43 1037.50,810.97 1039.66,817.48 1033.62,814.24 1031.92,820.88 1028.59,814.89 1023.57,819.55 1024.01,812.72 1017.27,813.93 1021.33,808.41 1015.00,805.78 1021.40,803.34 1017.50,797.71 1024.20,799.11 1023.97,792.27 1028.85,797.07 1032.35,791.18 1033.86,797.87 1039.99,794.81 1037.64,801.24 1044.45,801.98 1039.00,806.13" fill="#87A550" opacity="0.92"/>
<circle cx="1030.0" cy="806.0" r="4.5" fill="#5F7F35" opacity="0.55"/>
<polygon points="1042.61,809.90 1034.73,809.59 1037.15,817.09 1031.32,811.79 1028.35,819.10 1027.29,811.28 1020.32,814.97 1024.52,808.30 1016.82,806.65 1024.33,804.24 1019.48,798.02 1026.78,801.01 1027.07,793.13 1030.74,800.11 1036.03,794.26 1034.36,801.96 1042.17,800.88 1035.93,805.71" fill="#6F9040" opacity="0.92"/>
<circle cx="1030.0" cy="806.0" r="4.0" fill="#5F7F35" opacity="0.55"/>
<polygon points="1022.42,826.84 1016.50,827.31 1018.37,832.95 1013.14,830.14 1011.66,835.89 1008.78,830.70 1004.43,834.75 1004.81,828.82 998.96,829.87 1002.49,825.09 997.00,822.81 1002.55,820.69 999.17,815.81 1004.98,817.03 1004.77,811.10 1009.00,815.26 1012.04,810.16 1013.34,815.95 1018.65,813.30 1016.62,818.88 1022.52,819.52 1017.80,823.11" fill="#87A550" opacity="0.92"/>
<circle cx="1010.0" cy="823.0" r="3.9" fill="#5F7F35" opacity="0.55"/>
<polygon points="1020.93,826.38 1014.10,826.11 1016.20,832.61 1011.14,828.02 1008.57,834.35 1007.65,827.58 1001.61,830.77 1005.25,825.00 998.57,823.56 1005.08,821.48 1000.89,816.09 1007.21,818.67 1007.46,811.84 1010.64,817.89 1015.23,812.82 1013.78,819.50 1020.55,818.56 1015.14,822.75" fill="#6F9040" opacity="0.92"/>
<circle cx="1010.0" cy="823.0" r="3.4" fill="#5F7F35" opacity="0.55"/>
<polygon points="1042.51,831.25 1037.50,831.65 1039.08,836.42 1034.66,834.04 1033.41,838.91 1030.97,834.52 1027.29,837.94 1027.61,832.93 1022.66,833.81 1025.64,829.77 1021.00,827.84 1025.69,826.05 1022.83,821.92 1027.75,822.95 1027.57,817.93 1031.15,821.45 1033.72,817.14 1034.83,822.04 1039.32,819.79 1037.60,824.51 1042.60,825.05 1038.60,828.10" fill="#87A550" opacity="0.92"/>
<circle cx="1032.0" cy="828.0" r="3.3" fill="#5F7F35" opacity="0.55"/>
<polygon points="1041.25,830.86 1035.47,830.63 1037.25,836.14 1032.97,832.25 1030.79,837.60 1030.01,831.87 1024.90,834.58 1027.98,829.69 1022.33,828.47 1027.84,826.71 1024.29,822.15 1029.64,824.34 1029.85,818.56 1032.55,823.68 1036.42,819.39 1035.20,825.04 1040.92,824.25 1036.35,827.79" fill="#6F9040" opacity="0.92"/>
<circle cx="1032.0" cy="828.0" r="2.9" fill="#5F7F35" opacity="0.55"/>
<polygon points="1041.21,614.42 1038.06,614.34 1039.61,617.09 1036.86,615.56 1036.95,618.70 1035.22,616.07 1033.84,618.90 1033.54,615.76 1031.00,617.63 1032.19,614.71 1029.08,615.18 1031.48,613.15 1028.51,612.12 1031.58,611.44 1029.43,609.15 1032.47,609.98 1031.63,606.94 1033.93,609.09 1034.59,606.01 1035.64,608.98 1037.66,606.57 1037.20,609.68 1040.11,608.48 1038.26,611.03 1041.39,611.32 1038.57,612.71" fill="#3E9F7A" opacity="0.92"/>
<circle cx="1035.0" cy="612.5" r="1.9" fill="#5F7F35" opacity="0.55"/>
<polygon points="1041.21,629.92 1038.06,629.84 1039.61,632.59 1036.86,631.06 1036.95,634.20 1035.22,631.57 1033.84,634.40 1033.54,631.26 1031.00,633.13 1032.19,630.21 1029.08,630.68 1031.48,628.65 1028.51,627.62 1031.58,626.94 1029.43,624.65 1032.47,625.48 1031.63,622.44 1033.93,624.59 1034.59,621.51 1035.64,624.48 1037.66,622.07 1037.20,625.18 1040.11,623.98 1038.26,626.53 1041.39,626.82 1038.57,628.21" fill="#3E9F7A" opacity="0.92"/>
<circle cx="1035.0" cy="628.0" r="1.9" fill="#5F7F35" opacity="0.55"/>
<polygon points="1041.21,646.92 1038.06,646.84 1039.61,649.59 1036.86,648.06 1036.95,651.20 1035.22,648.57 1033.84,651.40 1033.54,648.26 1031.00,650.13 1032.19,647.21 1029.08,647.68 1031.48,645.65 1028.51,644.62 1031.58,643.94 1029.43,641.65 1032.47,642.48 1031.63,639.44 1033.93,641.59 1034.59,638.51 1035.64,641.48 1037.66,639.07 1037.20,642.18 1040.11,640.98 1038.26,643.53 1041.39,643.82 1038.57,645.21" fill="#3E9F7A" opacity="0.92"/>
<circle cx="1035.0" cy="645.0" r="1.9" fill="#5F7F35" opacity="0.55"/>
<polygon points="1041.21,665.92 1038.06,665.84 1039.61,668.59 1036.86,667.06 1036.95,670.20 1035.22,667.57 1033.84,670.40 1033.54,667.26 1031.00,669.13 1032.19,666.21 1029.08,666.68 1031.48,664.65 1028.51,663.62 1031.58,662.94 1029.43,660.65 1032.47,661.48 1031.63,658.44 1033.93,660.59 1034.59,657.51 1035.64,660.48 1037.66,658.07 1037.20,661.18 1040.11,659.98 1038.26,662.53 1041.39,662.82 1038.57,664.21" fill="#3E9F7A" opacity="0.92"/>
<circle cx="1035.0" cy="664.0" r="1.9" fill="#5F7F35" opacity="0.55"/>
<rect x="780.00" y="833.70" width="184.00" height="7.30" fill="url(#hedge)" />
<rect x="967.00" y="836.50" width="73.00" height="4.00" fill="#fff" stroke="#666" stroke-width="0.6"/>
<rect x="862" y="602" width="123" height="29.5" fill="#fff" stroke="#111" stroke-width="2.8"/>
<text x="923.50" y="615.60" font-size="12.5" font-weight="normal" fill="#111" text-anchor="middle" textLength="87.0" lengthAdjust="spacingAndGlyphs" stroke="#111" stroke-width="0.3">ZONA VERDE</text>
<text x="922.00" y="629.00" font-size="13" font-weight="normal" fill="#111" text-anchor="middle" textLength="38.0" lengthAdjust="spacingAndGlyphs" stroke="#111" stroke-width="0.3">550 m</text>
<text x="943.50" y="623.50" font-size="8" font-weight="bold" fill="#111" text-anchor="middle" >2</text>
<rect x="792.5" y="652" width="20" height="13.5" fill="none" stroke="#2a2a2a" stroke-width="1.2"/><rect x="794.5" y="654" width="16" height="10" fill="none" stroke="#444" stroke-width="0.7"/><path d="M796 658H809M798 661H807" stroke="#222" stroke-width="0.9"/>
<rect x="787" y="667" width="32.5" height="6" fill="#1a1a1a"/>
<rect x="788.5" y="673" width="29" height="13" fill="none" stroke="#1f1f1f" stroke-width="1.8"/>
<path d="M789.5 685.5L802 675L817 685.5" fill="none" stroke="#222" stroke-width="0.9"/>
<rect x="804" y="733" width="52" height="51.5" rx="9" fill="#fff" stroke="#666" stroke-width="0.8"/>
<rect x="844" y="705.5" width="153" height="79" rx="7" fill="#fff" stroke="#666" stroke-width="0.8"/>
<rect x="828.5" y="708.5" width="20" height="27" fill="#E9F1FA" stroke="#666" stroke-width="0.7"/>
<line x1="832.50" y1="709.00" x2="832.50" y2="735.00" stroke="#7a8aa0" stroke-width="0.6" />
<line x1="836.10" y1="709.00" x2="836.10" y2="735.00" stroke="#7a8aa0" stroke-width="0.6" />
<line x1="839.70" y1="709.00" x2="839.70" y2="735.00" stroke="#7a8aa0" stroke-width="0.6" />
<line x1="843.30" y1="709.00" x2="843.30" y2="735.00" stroke="#7a8aa0" stroke-width="0.6" />
<line x1="846.90" y1="709.00" x2="846.90" y2="735.00" stroke="#7a8aa0" stroke-width="0.6" />
<rect x="807" y="736" width="42" height="45.5" rx="7" fill="#BAD7F3" stroke="#4a5a70" stroke-width="0.7"/>
<rect x="847" y="708.5" width="147" height="73" rx="5" fill="#BAD7F3" stroke="#4a5a70" stroke-width="0.7"/>
<rect x="843" y="737" width="8" height="43.5" fill="#BAD7F3"/>
<path d="M848 712L986 740V752L848 779M986 712V779" fill="none" stroke="#6d7f99" stroke-width="0.6"/>
<path d="M811 748A8 8 0 0 0 820 739M811 744A5 5 0 0 0 816 739" fill="none" stroke="#3B7FC4" stroke-width="0.7"/>
<rect x="946" y="703" width="11" height="6" fill="#fff" stroke="#666" stroke-width="0.7"/><rect x="946" y="781" width="11" height="6" fill="#fff" stroke="#666" stroke-width="0.7"/>
<rect x="861.5" y="730" width="123" height="32" fill="#fff" stroke="#111" stroke-width="2.8"/>
<text x="917.00" y="745.00" font-size="12.5" font-weight="normal" fill="#111" text-anchor="middle" textLength="48.0" lengthAdjust="spacingAndGlyphs" stroke="#111" stroke-width="0.3">78,75 m</text>
<text x="946.50" y="739.50" font-size="8" font-weight="bold" fill="#111" text-anchor="middle" >2</text>
<text x="922.50" y="758.20" font-size="12.5" font-weight="normal" fill="#111" text-anchor="middle" textLength="114.0" lengthAdjust="spacingAndGlyphs" stroke="#111" stroke-width="0.3">15,30 m x 5,60 m</text>
<rect x="1011" y="706" width="12" height="7" fill="#fff" stroke="#333" stroke-width="0.7"/><rect x="1011" y="723" width="12" height="7" fill="#fff" stroke="#333" stroke-width="0.7"/>
<g stroke="#333" stroke-width="0.6" fill="#fff">
<polygon points="1038.62,722.40 1032.40,728.62 1023.60,728.62 1017.38,722.40 1017.38,713.60 1023.60,707.38 1032.40,707.38 1038.62,713.60" fill="#fff" />
<line x1="1028.00" y1="718.00" x2="1038.62" y2="722.40" stroke="#333" stroke-width="0.5" />
<line x1="1028.00" y1="718.00" x2="1032.40" y2="728.62" stroke="#333" stroke-width="0.5" />
<line x1="1028.00" y1="718.00" x2="1023.60" y2="728.62" stroke="#333" stroke-width="0.5" />
<line x1="1028.00" y1="718.00" x2="1017.38" y2="722.40" stroke="#333" stroke-width="0.5" />
<line x1="1028.00" y1="718.00" x2="1017.38" y2="713.60" stroke="#333" stroke-width="0.5" />
<line x1="1028.00" y1="718.00" x2="1023.60" y2="707.38" stroke="#333" stroke-width="0.5" />
<line x1="1028.00" y1="718.00" x2="1032.40" y2="707.38" stroke="#333" stroke-width="0.5" />
<line x1="1028.00" y1="718.00" x2="1038.62" y2="713.60" stroke="#333" stroke-width="0.5" />
</g>
<rect x="1011" y="753.5" width="12" height="7" fill="#fff" stroke="#333" stroke-width="0.7"/><rect x="1011" y="770.5" width="12" height="7" fill="#fff" stroke="#333" stroke-width="0.7"/>
<g stroke="#333" stroke-width="0.6" fill="#fff">
<polygon points="1038.62,769.90 1032.40,776.12 1023.60,776.12 1017.38,769.90 1017.38,761.10 1023.60,754.88 1032.40,754.88 1038.62,761.10" fill="#fff" />
<line x1="1028.00" y1="765.50" x2="1038.62" y2="769.90" stroke="#333" stroke-width="0.5" />
<line x1="1028.00" y1="765.50" x2="1032.40" y2="776.12" stroke="#333" stroke-width="0.5" />
<line x1="1028.00" y1="765.50" x2="1023.60" y2="776.12" stroke="#333" stroke-width="0.5" />
<line x1="1028.00" y1="765.50" x2="1017.38" y2="769.90" stroke="#333" stroke-width="0.5" />
<line x1="1028.00" y1="765.50" x2="1017.38" y2="761.10" stroke="#333" stroke-width="0.5" />
<line x1="1028.00" y1="765.50" x2="1023.60" y2="754.88" stroke="#333" stroke-width="0.5" />
<line x1="1028.00" y1="765.50" x2="1032.40" y2="754.88" stroke="#333" stroke-width="0.5" />
<line x1="1028.00" y1="765.50" x2="1038.62" y2="761.10" stroke="#333" stroke-width="0.5" />
</g>
<rect x="840" y="803" width="7" height="12" fill="#fff" stroke="#333" stroke-width="0.7"/><rect x="857" y="803" width="7" height="12" fill="#fff" stroke="#333" stroke-width="0.7"/>
<g stroke="#333" stroke-width="0.6" fill="#fff">
<polygon points="862.62,823.40 856.40,829.62 847.60,829.62 841.38,823.40 841.38,814.60 847.60,808.38 856.40,808.38 862.62,814.60" fill="#fff" />
<line x1="852.00" y1="819.00" x2="862.62" y2="823.40" stroke="#333" stroke-width="0.5" />
<line x1="852.00" y1="819.00" x2="856.40" y2="829.62" stroke="#333" stroke-width="0.5" />
<line x1="852.00" y1="819.00" x2="847.60" y2="829.62" stroke="#333" stroke-width="0.5" />
<line x1="852.00" y1="819.00" x2="841.38" y2="823.40" stroke="#333" stroke-width="0.5" />
<line x1="852.00" y1="819.00" x2="841.38" y2="814.60" stroke="#333" stroke-width="0.5" />
<line x1="852.00" y1="819.00" x2="847.60" y2="808.38" stroke="#333" stroke-width="0.5" />
<line x1="852.00" y1="819.00" x2="856.40" y2="808.38" stroke="#333" stroke-width="0.5" />
<line x1="852.00" y1="819.00" x2="862.62" y2="814.60" stroke="#333" stroke-width="0.5" />
</g>
<rect x="901" y="803" width="7" height="12" fill="#fff" stroke="#333" stroke-width="0.7"/><rect x="918" y="803" width="7" height="12" fill="#fff" stroke="#333" stroke-width="0.7"/>
<g stroke="#333" stroke-width="0.6" fill="#fff">
<polygon points="923.62,823.40 917.40,829.62 908.60,829.62 902.38,823.40 902.38,814.60 908.60,808.38 917.40,808.38 923.62,814.60" fill="#fff" />
<line x1="913.00" y1="819.00" x2="923.62" y2="823.40" stroke="#333" stroke-width="0.5" />
<line x1="913.00" y1="819.00" x2="917.40" y2="829.62" stroke="#333" stroke-width="0.5" />
<line x1="913.00" y1="819.00" x2="908.60" y2="829.62" stroke="#333" stroke-width="0.5" />
<line x1="913.00" y1="819.00" x2="902.38" y2="823.40" stroke="#333" stroke-width="0.5" />
<line x1="913.00" y1="819.00" x2="902.38" y2="814.60" stroke="#333" stroke-width="0.5" />
<line x1="913.00" y1="819.00" x2="908.60" y2="808.38" stroke="#333" stroke-width="0.5" />
<line x1="913.00" y1="819.00" x2="917.40" y2="808.38" stroke="#333" stroke-width="0.5" />
<line x1="913.00" y1="819.00" x2="923.62" y2="814.60" stroke="#333" stroke-width="0.5" />
</g>
<rect x="961" y="803" width="7" height="12" fill="#fff" stroke="#333" stroke-width="0.7"/><rect x="978" y="803" width="7" height="12" fill="#fff" stroke="#333" stroke-width="0.7"/>
<g stroke="#333" stroke-width="0.6" fill="#fff">
<polygon points="983.62,823.40 977.40,829.62 968.60,829.62 962.38,823.40 962.38,814.60 968.60,808.38 977.40,808.38 983.62,814.60" fill="#fff" />
<line x1="973.00" y1="819.00" x2="983.62" y2="823.40" stroke="#333" stroke-width="0.5" />
<line x1="973.00" y1="819.00" x2="977.40" y2="829.62" stroke="#333" stroke-width="0.5" />
<line x1="973.00" y1="819.00" x2="968.60" y2="829.62" stroke="#333" stroke-width="0.5" />
<line x1="973.00" y1="819.00" x2="962.38" y2="823.40" stroke="#333" stroke-width="0.5" />
<line x1="973.00" y1="819.00" x2="962.38" y2="814.60" stroke="#333" stroke-width="0.5" />
<line x1="973.00" y1="819.00" x2="968.60" y2="808.38" stroke="#333" stroke-width="0.5" />
<line x1="973.00" y1="819.00" x2="977.40" y2="808.38" stroke="#333" stroke-width="0.5" />
<line x1="973.00" y1="819.00" x2="983.62" y2="814.60" stroke="#333" stroke-width="0.5" />
</g>
<g fill="none" stroke="#6a6a6a" stroke-width="0.8">
<path d="M1045.8 668C1048 612 1085 566 1137.5 556.5"/>
<path d="M1047.6 668C1050 614 1086 569 1137.5 559"/>
<path d="M1083.3 668C1086 624 1105 590 1137.5 577.5"/>
<path d="M1101.7 668C1104 636 1116 610 1137.5 598.5"/>
<path d="M1045 669.3H1120M1045 780.6H1120M1120 669.3V842M1082.5 669.3V780.6M1102 669.3V780.6M1050.4 780.6L1082.5 840.4L1117 780.6M1097.5 534V588"/>
</g>
<path d="M1120 668C1121 652 1127 643 1137.5 640V730H1123V668Z" fill="#fff" stroke="#555" stroke-width="0.9"/>
<rect x="1123.00" y="724.00" width="14.00" height="47.00" fill="#fff" stroke="#444" stroke-width="0.7"/>
<line x1="1123.00" y1="727.00" x2="1137.00" y2="727.00" stroke="#444" stroke-width="0.6" />
<line x1="1123.00" y1="731.50" x2="1137.00" y2="731.50" stroke="#444" stroke-width="0.6" />
<line x1="1123.00" y1="736.00" x2="1137.00" y2="736.00" stroke="#444" stroke-width="0.6" />
<line x1="1123.00" y1="740.50" x2="1137.00" y2="740.50" stroke="#444" stroke-width="0.6" />
<line x1="1123.00" y1="745.00" x2="1137.00" y2="745.00" stroke="#444" stroke-width="0.6" />
<line x1="1123.00" y1="749.50" x2="1137.00" y2="749.50" stroke="#444" stroke-width="0.6" />
<line x1="1123.00" y1="754.00" x2="1137.00" y2="754.00" stroke="#444" stroke-width="0.6" />
<line x1="1123.00" y1="758.50" x2="1137.00" y2="758.50" stroke="#444" stroke-width="0.6" />
<line x1="1123.00" y1="763.00" x2="1137.00" y2="763.00" stroke="#444" stroke-width="0.6" />
<line x1="1123.00" y1="767.50" x2="1137.00" y2="767.50" stroke="#444" stroke-width="0.6" />
<rect x="1042.60" y="346.00" width="55.40" height="78.00" fill="#fff" stroke="#555" stroke-width="0.8"/>
<rect x="1057.00" y="383.00" width="26.70" height="26.00" fill="#fff" stroke="#444" stroke-width="0.9"/>
<rect x="1029.00" y="858.50" width="93.00" height="14.50" fill="#8F8F8F" />
<rect x="1643.40" y="786.00" width="76.60" height="58.00" fill="url(#redst)" stroke="#E03A38" stroke-width="1"/>
<circle cx="1682" cy="820" r="3.6" fill="#222"/><circle cx="1682" cy="820" r="1.2" fill="#E8A020"/>
<path d="M1661 809H1702" stroke="#5a1a1a" stroke-width="1.6" stroke-dasharray="2.2 1"/>
<rect x="172.00" y="318.00" width="18.60" height="24.00" fill="url(#gsq)" />
<rect x="61.00" y="400.00" width="23.00" height="34.00" fill="url(#gsq)" />
<rect x="61.00" y="768.00" width="23.00" height="35.00" fill="url(#gsq)" />
<rect x="150.00" y="872.00" width="32.00" height="25.00" fill="url(#gsq)" />
<rect x="1662.90" y="874.00" width="34.10" height="21.00" fill="url(#gsq)" />
<rect x="1670.00" y="317.00" width="33.00" height="26.00" fill="url(#gsq)" />
<rect x="1771.00" y="443.00" width="24.00" height="31.00" fill="url(#gsq)" />
<rect x="155.00" y="305.00" width="46.00" height="6.70" fill="#C6C6C6" />
<rect x="205.00" y="305.00" width="3.00" height="7.00" fill="#C6C6C6" />
<rect x="210.00" y="304.00" width="5.00" height="8.00" fill="#C6C6C6" />
<rect x="21.00" y="391.00" width="7.00" height="51.00" fill="#C2C2C2" />
<rect x="21.00" y="762.00" width="7.00" height="50.00" fill="#C2C2C2" />
<rect x="31.50" y="391.00" width="7.00" height="51.00" fill="#C2C2C2" />
<rect x="31.50" y="762.00" width="7.00" height="50.00" fill="#C2C2C2" />
<rect x="42.00" y="391.00" width="7.00" height="51.00" fill="#C2C2C2" />
<rect x="42.00" y="762.00" width="7.00" height="50.00" fill="#C2C2C2" />
<rect x="19.00" y="446.00" width="38.00" height="7.00" fill="#C2C2C2" />
<rect x="180.00" y="901.00" width="10.00" height="6.00" fill="#C6C6C6" />
<rect x="1655.00" y="903.00" width="49.00" height="5.00" fill="#C6C6C6" />
<rect x="1643.00" y="903.00" width="5.00" height="5.00" fill="#C6C6C6" />
<rect x="1661.00" y="304.00" width="52.00" height="8.00" fill="#C6C6C6" />
<rect x="1718.00" y="303.00" width="5.00" height="10.00" fill="#C6C6C6" />
<rect x="491.00" y="345.00" width="20.00" height="8.00" fill="#E8232A" />
<text x="958.5" y="644" style="font-family:'Liberation Serif',serif" font-size="24" font-weight="bold" fill="#fff" opacity="0.42" text-anchor="middle" textLength="127" lengthAdjust="spacingAndGlyphs">Global Spain</text>
<text x="950" y="654.5" font-size="6.5" fill="#fff" opacity="0.5" text-anchor="middle" textLength="59" lengthAdjust="spacing">REAL ESTATE</text>
<line x1="492.00" y1="346.40" x2="1042.60" y2="346.40" stroke="#222" stroke-width="1.1" />
<line x1="492.00" y1="348.80" x2="777.00" y2="348.80" stroke="#666" stroke-width="0.6" />
<line x1="1497.00" y1="346.40" x2="1549.00" y2="346.40" stroke="#222" stroke-width="1.1" />
<rect x="688" y="316.7" width="13.7" height="11.6" fill="#fff" stroke="#9C9C9C" stroke-width="0.9"/>
<rect x="886.7" y="316.7" width="15.0" height="11.6" fill="#fff" stroke="#9C9C9C" stroke-width="0.9"/>
<rect x="1106.7" y="316.7" width="13.3" height="11.6" fill="#fff" stroke="#9C9C9C" stroke-width="0.9"/>
<rect x="1500" y="316.7" width="14.0" height="11.6" fill="#fff" stroke="#9C9C9C" stroke-width="0.9"/>
<rect x="290" y="316.7" width="13.0" height="11.6" fill="#fff" stroke="#9C9C9C" stroke-width="0.9"/>
<rect x="480" y="316.7" width="13.0" height="11.6" fill="#fff" stroke="#9C9C9C" stroke-width="0.9"/>
<rect x="1300" y="316.7" width="13.0" height="11.6" fill="#fff" stroke="#9C9C9C" stroke-width="0.9"/>
<rect x="732" y="862" width="13.0" height="12.0" fill="#fff" stroke="#9C9C9C" stroke-width="0.9"/>
<rect x="919" y="862" width="15.0" height="12.0" fill="#fff" stroke="#9C9C9C" stroke-width="0.9"/>
<rect x="1518" y="862" width="15.0" height="12.0" fill="#fff" stroke="#9C9C9C" stroke-width="0.9"/>
<rect x="330" y="862" width="13.0" height="12.0" fill="#fff" stroke="#9C9C9C" stroke-width="0.9"/>
<rect x="530" y="862" width="13.0" height="12.0" fill="#fff" stroke="#9C9C9C" stroke-width="0.9"/>
<rect x="1330" y="862" width="13.0" height="12.0" fill="#fff" stroke="#9C9C9C" stroke-width="0.9"/>
<rect x="61.7" y="499" width="10.0" height="13.7" fill="#fff" stroke="#9C9C9C" stroke-width="0.9"/>
<rect x="61.7" y="702.7" width="10.0" height="13.3" fill="#fff" stroke="#9C9C9C" stroke-width="0.9"/>
<rect x="61.7" y="421" width="10.3" height="13.0" fill="#fff" stroke="#9C9C9C" stroke-width="0.9"/>
<rect x="1743" y="487" width="12.0" height="13.0" fill="#fff" stroke="#9C9C9C" stroke-width="0.9"/>
<rect x="1757" y="700" width="11.0" height="12.0" fill="#fff" stroke="#9C9C9C" stroke-width="0.9"/>
<rect x="1757" y="796" width="11.0" height="12.0" fill="#fff" stroke="#9C9C9C" stroke-width="0.9"/>
<rect x="1701" y="862" width="13.0" height="12.0" fill="#fff" stroke="#9C9C9C" stroke-width="0.9"/>
<rect x="1737" y="318" width="11.0" height="11.0" fill="#fff" stroke="#9C9C9C" stroke-width="0.9"/>
<rect x="1656" y="318" width="10.0" height="11.0" fill="#fff" stroke="#9C9C9C" stroke-width="0.9"/>
<rect x="60" y="542.5" width="13" height="100.5" fill="url(#grid)" stroke="#9A9A9A" stroke-width="0.9"/>
<line x1="492.00" y1="841.70" x2="1045.00" y2="841.70" stroke="#333" stroke-width="1.0" />
<line x1="1497.00" y1="842.50" x2="1549.00" y2="842.50" stroke="#333" stroke-width="1.0" />
<g stroke="#1d1d1d" stroke-width="0.9">
<line x1="513.83" y1="798.00" x2="513.83" y2="822.00" stroke="#1d1d1d" stroke-width="0.9" />
<line x1="512.23" y1="804.00" x2="515.63" y2="804.00" stroke="#1d1d1d" stroke-width="1.6" />
<line x1="512.23" y1="808.80" x2="515.63" y2="808.80" stroke="#1d1d1d" stroke-width="1.6" />
<line x1="512.23" y1="816.72" x2="515.63" y2="816.72" stroke="#1d1d1d" stroke-width="1.6" />
<line x1="517.50" y1="798.00" x2="517.50" y2="822.00" stroke="#1d1d1d" stroke-width="0.9" />
<line x1="515.90" y1="804.00" x2="519.30" y2="804.00" stroke="#1d1d1d" stroke-width="1.6" />
<line x1="515.90" y1="808.80" x2="519.30" y2="808.80" stroke="#1d1d1d" stroke-width="1.6" />
<line x1="515.90" y1="816.72" x2="519.30" y2="816.72" stroke="#1d1d1d" stroke-width="1.6" />
<line x1="521.17" y1="798.00" x2="521.17" y2="822.00" stroke="#1d1d1d" stroke-width="0.9" />
<line x1="519.57" y1="804.00" x2="522.97" y2="804.00" stroke="#1d1d1d" stroke-width="1.6" />
<line x1="519.57" y1="808.80" x2="522.97" y2="808.80" stroke="#1d1d1d" stroke-width="1.6" />
<line x1="519.57" y1="816.72" x2="522.97" y2="816.72" stroke="#1d1d1d" stroke-width="1.6" />
</g>
<rect x="526.00" y="797.00" width="15.00" height="13.00" fill="#fff" stroke="#555" stroke-width="0.7"/>
<line x1="526.00" y1="800.00" x2="541.00" y2="800.00" stroke="#555" stroke-width="0.6" />
<line x1="526.00" y1="803.30" x2="541.00" y2="803.30" stroke="#555" stroke-width="0.6" />
<line x1="526.00" y1="806.60" x2="541.00" y2="806.60" stroke="#555" stroke-width="0.6" />
<line x1="547.00" y1="396.00" x2="562.00" y2="396.00" stroke="#1d1d1d" stroke-width="0.9" />
<line x1="550.75" y1="394.40" x2="550.75" y2="397.80" stroke="#1d1d1d" stroke-width="1.6" />
<line x1="554.50" y1="394.40" x2="554.50" y2="397.80" stroke="#1d1d1d" stroke-width="1.6" />
<line x1="559.00" y1="394.40" x2="559.00" y2="397.80" stroke="#1d1d1d" stroke-width="1.6" />
<line x1="547.00" y1="400.00" x2="562.00" y2="400.00" stroke="#1d1d1d" stroke-width="0.9" />
<line x1="550.75" y1="398.40" x2="550.75" y2="401.80" stroke="#1d1d1d" stroke-width="1.6" />
<line x1="554.50" y1="398.40" x2="554.50" y2="401.80" stroke="#1d1d1d" stroke-width="1.6" />
<line x1="559.00" y1="398.40" x2="559.00" y2="401.80" stroke="#1d1d1d" stroke-width="1.6" />
<line x1="547.00" y1="404.00" x2="562.00" y2="404.00" stroke="#1d1d1d" stroke-width="0.9" />
<line x1="550.75" y1="402.40" x2="550.75" y2="405.80" stroke="#1d1d1d" stroke-width="1.6" />
<line x1="554.50" y1="402.40" x2="554.50" y2="405.80" stroke="#1d1d1d" stroke-width="1.6" />
<line x1="559.00" y1="402.40" x2="559.00" y2="405.80" stroke="#1d1d1d" stroke-width="1.6" />
<line x1="547.00" y1="408.00" x2="562.00" y2="408.00" stroke="#1d1d1d" stroke-width="0.9" />
<line x1="550.75" y1="406.40" x2="550.75" y2="409.80" stroke="#1d1d1d" stroke-width="1.6" />
<line x1="554.50" y1="406.40" x2="554.50" y2="409.80" stroke="#1d1d1d" stroke-width="1.6" />
<line x1="559.00" y1="406.40" x2="559.00" y2="409.80" stroke="#1d1d1d" stroke-width="1.6" />
<rect x="57" y="291.5" width="989" height="626" fill="none" stroke="#D62F3A" stroke-width="2.6" stroke-dasharray="8 3.5"/>
<rect x="1068.5" y="291.5" width="715" height="626" fill="none" stroke="#D62F3A" stroke-width="2.6" stroke-dasharray="8 3.5"/>
<line x1="144.20" y1="290.00" x2="144.20" y2="308.00" stroke="#000" stroke-width="2.6" />
<circle cx="144.2" cy="263.8" r="28" fill="#fff" stroke="#000" stroke-width="2.7"/>
<text transform="translate(153.1 263.8) rotate(-90)" font-size="26.5" font-weight="normal" fill="#2F78B7" text-anchor="middle" textLength="51" lengthAdjust="spacingAndGlyphs" stroke="#2F78B7" stroke-width="0.7">O16</text>
<circle cx="144.2" cy="334.6" r="28" fill="#fff" stroke="#000" stroke-width="2.7"/>
<text transform="translate(153.1 334.6) rotate(-90)" font-size="26.5" font-weight="normal" fill="#DC2A33" text-anchor="middle" textLength="32" lengthAdjust="spacingAndGlyphs" stroke="#DC2A33" stroke-width="0.7">O1</text>
<line x1="237.90" y1="290.00" x2="237.90" y2="308.00" stroke="#000" stroke-width="2.6" />
<circle cx="237.9" cy="263.8" r="28" fill="#fff" stroke="#000" stroke-width="2.7"/>
<text transform="translate(246.8 263.8) rotate(-90)" font-size="26.5" font-weight="normal" fill="#2F78B7" text-anchor="middle" textLength="51" lengthAdjust="spacingAndGlyphs" stroke="#2F78B7" stroke-width="0.7">O17</text>
<circle cx="237.9" cy="334.6" r="28" fill="#fff" stroke="#000" stroke-width="2.7"/>
<text transform="translate(246.8 334.6) rotate(-90)" font-size="26.5" font-weight="normal" fill="#DC2A33" text-anchor="middle" textLength="32" lengthAdjust="spacingAndGlyphs" stroke="#DC2A33" stroke-width="0.7">O2</text>
<line x1="310.40" y1="290.00" x2="310.40" y2="308.00" stroke="#000" stroke-width="2.6" />
<circle cx="310.4" cy="263.8" r="28" fill="#fff" stroke="#000" stroke-width="2.7"/>
<text transform="translate(319.3 263.8) rotate(-90)" font-size="26.5" font-weight="normal" fill="#2F78B7" text-anchor="middle" textLength="51" lengthAdjust="spacingAndGlyphs" stroke="#2F78B7" stroke-width="0.7">O18</text>
<circle cx="310.4" cy="334.6" r="28" fill="#fff" stroke="#000" stroke-width="2.7"/>
<text transform="translate(319.3 334.6) rotate(-90)" font-size="26.5" font-weight="normal" fill="#DC2A33" text-anchor="middle" textLength="32" lengthAdjust="spacingAndGlyphs" stroke="#DC2A33" stroke-width="0.7">O3</text>
<line x1="382.90" y1="290.00" x2="382.90" y2="308.00" stroke="#000" stroke-width="2.6" />
<circle cx="382.9" cy="263.8" r="28" fill="#fff" stroke="#000" stroke-width="2.7"/>
<text transform="translate(391.8 263.8) rotate(-90)" font-size="26.5" font-weight="normal" fill="#2F78B7" text-anchor="middle" textLength="51" lengthAdjust="spacingAndGlyphs" stroke="#2F78B7" stroke-width="0.7">O19</text>
<circle cx="382.9" cy="334.6" r="28" fill="#fff" stroke="#000" stroke-width="2.7"/>
<text transform="translate(391.8 334.6) rotate(-90)" font-size="26.5" font-weight="normal" fill="#DC2A33" text-anchor="middle" textLength="32" lengthAdjust="spacingAndGlyphs" stroke="#DC2A33" stroke-width="0.7">O4</text>
<line x1="455.20" y1="290.00" x2="455.20" y2="308.00" stroke="#000" stroke-width="2.6" />
<circle cx="455.2" cy="263.8" r="28" fill="#fff" stroke="#000" stroke-width="2.7"/>
<text transform="translate(464.1 263.8) rotate(-90)" font-size="26.5" font-weight="normal" fill="#2F78B7" text-anchor="middle" textLength="51" lengthAdjust="spacingAndGlyphs" stroke="#2F78B7" stroke-width="0.7">O20</text>
<circle cx="455.2" cy="334.6" r="28" fill="#fff" stroke="#000" stroke-width="2.7"/>
<text transform="translate(464.1 334.6) rotate(-90)" font-size="26.5" font-weight="normal" fill="#DC2A33" text-anchor="middle" textLength="32" lengthAdjust="spacingAndGlyphs" stroke="#DC2A33" stroke-width="0.7">O5</text>
<line x1="143.80" y1="876.00" x2="143.80" y2="894.00" stroke="#000" stroke-width="2.6" />
<circle cx="143.8" cy="850.0" r="28" fill="#fff" stroke="#000" stroke-width="2.7"/>
<text transform="translate(152.7 850.0) rotate(-90)" font-size="26.5" font-weight="normal" fill="#DC2A33" text-anchor="middle" textLength="51" lengthAdjust="spacingAndGlyphs" stroke="#DC2A33" stroke-width="0.7">O15</text>
<circle cx="143.8" cy="919.3" r="28" fill="#fff" stroke="#000" stroke-width="2.7"/>
<text transform="translate(152.7 919.3) rotate(-90)" font-size="26.5" font-weight="normal" fill="#2F78B7" text-anchor="middle" textLength="51" lengthAdjust="spacingAndGlyphs" stroke="#2F78B7" stroke-width="0.7">O30</text>
<line x1="238.00" y1="876.00" x2="238.00" y2="894.00" stroke="#000" stroke-width="2.6" />
<circle cx="238.0" cy="850.0" r="28" fill="#fff" stroke="#000" stroke-width="2.7"/>
<text transform="translate(246.9 850.0) rotate(-90)" font-size="26.5" font-weight="normal" fill="#DC2A33" text-anchor="middle" textLength="51" lengthAdjust="spacingAndGlyphs" stroke="#DC2A33" stroke-width="0.7">O14</text>
<circle cx="238.0" cy="919.3" r="28" fill="#fff" stroke="#000" stroke-width="2.7"/>
<text transform="translate(246.9 919.3) rotate(-90)" font-size="26.5" font-weight="normal" fill="#2F78B7" text-anchor="middle" textLength="51" lengthAdjust="spacingAndGlyphs" stroke="#2F78B7" stroke-width="0.7">O29</text>
<line x1="310.40" y1="876.00" x2="310.40" y2="894.00" stroke="#000" stroke-width="2.6" />
<circle cx="310.4" cy="850.0" r="28" fill="#fff" stroke="#000" stroke-width="2.7"/>
<text transform="translate(319.3 850.0) rotate(-90)" font-size="26.5" font-weight="normal" fill="#DC2A33" text-anchor="middle" textLength="51" lengthAdjust="spacingAndGlyphs" stroke="#DC2A33" stroke-width="0.7">O13</text>
<circle cx="310.4" cy="919.3" r="28" fill="#fff" stroke="#000" stroke-width="2.7"/>
<text transform="translate(319.3 919.3) rotate(-90)" font-size="26.5" font-weight="normal" fill="#2F78B7" text-anchor="middle" textLength="51" lengthAdjust="spacingAndGlyphs" stroke="#2F78B7" stroke-width="0.7">O28</text>
<line x1="383.00" y1="876.00" x2="383.00" y2="894.00" stroke="#000" stroke-width="2.6" />
<circle cx="383.0" cy="850.0" r="28" fill="#fff" stroke="#000" stroke-width="2.7"/>
<text transform="translate(391.9 850.0) rotate(-90)" font-size="26.5" font-weight="normal" fill="#DC2A33" text-anchor="middle" textLength="51" lengthAdjust="spacingAndGlyphs" stroke="#DC2A33" stroke-width="0.7">O12</text>
<circle cx="383.0" cy="919.3" r="28" fill="#fff" stroke="#000" stroke-width="2.7"/>
<text transform="translate(391.9 919.3) rotate(-90)" font-size="26.5" font-weight="normal" fill="#2F78B7" text-anchor="middle" textLength="51" lengthAdjust="spacingAndGlyphs" stroke="#2F78B7" stroke-width="0.7">O27</text>
<line x1="455.20" y1="876.00" x2="455.20" y2="894.00" stroke="#000" stroke-width="2.6" />
<circle cx="455.2" cy="850.0" r="28" fill="#fff" stroke="#000" stroke-width="2.7"/>
<text transform="translate(464.1 850.0) rotate(-90)" font-size="26.5" font-weight="normal" fill="#DC2A33" text-anchor="middle" textLength="51" lengthAdjust="spacingAndGlyphs" stroke="#DC2A33" stroke-width="0.7">O11</text>
<circle cx="455.2" cy="919.3" r="28" fill="#fff" stroke="#000" stroke-width="2.7"/>
<text transform="translate(464.1 919.3) rotate(-90)" font-size="26.5" font-weight="normal" fill="#2F78B7" text-anchor="middle" textLength="51" lengthAdjust="spacingAndGlyphs" stroke="#2F78B7" stroke-width="0.7">O26</text>
<line x1="1147.70" y1="298.00" x2="1147.70" y2="316.00" stroke="#000" stroke-width="2.6" />
<circle cx="1147.7" cy="272.0" r="28" fill="#fff" stroke="#000" stroke-width="2.7"/>
<text transform="translate(1156.9 272.0) rotate(-90)" font-size="27.5" font-weight="bold" fill="#2F78B7" text-anchor="middle" textLength="41.5" lengthAdjust="spacingAndGlyphs">E16</text>
<circle cx="1147.7" cy="340.8" r="28" fill="#fff" stroke="#000" stroke-width="2.7"/>
<text transform="translate(1156.9 340.8) rotate(-90)" font-size="27.5" font-weight="bold" fill="#DC2A33" text-anchor="middle" textLength="27" lengthAdjust="spacingAndGlyphs">E1</text>
<line x1="1242.70" y1="298.00" x2="1242.70" y2="316.00" stroke="#000" stroke-width="2.6" />
<circle cx="1242.7" cy="272.0" r="28" fill="#fff" stroke="#000" stroke-width="2.7"/>
<text transform="translate(1251.9 272.0) rotate(-90)" font-size="27.5" font-weight="bold" fill="#2F78B7" text-anchor="middle" textLength="41.5" lengthAdjust="spacingAndGlyphs">E17</text>
<circle cx="1242.7" cy="340.8" r="28" fill="#fff" stroke="#000" stroke-width="2.7"/>
<text transform="translate(1251.9 340.8) rotate(-90)" font-size="27.5" font-weight="bold" fill="#DC2A33" text-anchor="middle" textLength="27" lengthAdjust="spacingAndGlyphs">E2</text>
<line x1="1314.60" y1="298.00" x2="1314.60" y2="316.00" stroke="#000" stroke-width="2.6" />
<circle cx="1314.6" cy="272.0" r="28" fill="#fff" stroke="#000" stroke-width="2.7"/>
<text transform="translate(1323.8 272.0) rotate(-90)" font-size="27.5" font-weight="bold" fill="#2F78B7" text-anchor="middle" textLength="41.5" lengthAdjust="spacingAndGlyphs">E18</text>
<circle cx="1314.6" cy="340.8" r="28" fill="#fff" stroke="#000" stroke-width="2.7"/>
<text transform="translate(1323.8 340.8) rotate(-90)" font-size="27.5" font-weight="bold" fill="#DC2A33" text-anchor="middle" textLength="27" lengthAdjust="spacingAndGlyphs">E3</text>
<line x1="1387.00" y1="298.00" x2="1387.00" y2="316.00" stroke="#000" stroke-width="2.6" />
<circle cx="1387.0" cy="272.0" r="28" fill="#fff" stroke="#000" stroke-width="2.7"/>
<text transform="translate(1396.2 272.0) rotate(-90)" font-size="27.5" font-weight="bold" fill="#2F78B7" text-anchor="middle" textLength="41.5" lengthAdjust="spacingAndGlyphs">E19</text>
<circle cx="1387.0" cy="340.8" r="28" fill="#fff" stroke="#000" stroke-width="2.7"/>
<text transform="translate(1396.2 340.8) rotate(-90)" font-size="27.5" font-weight="bold" fill="#DC2A33" text-anchor="middle" textLength="27" lengthAdjust="spacingAndGlyphs">E4</text>
<line x1="1460.00" y1="298.00" x2="1460.00" y2="316.00" stroke="#000" stroke-width="2.6" />
<circle cx="1460.0" cy="272.0" r="28" fill="#fff" stroke="#000" stroke-width="2.7"/>
<text transform="translate(1469.2 272.0) rotate(-90)" font-size="27.5" font-weight="bold" fill="#2F78B7" text-anchor="middle" textLength="41.5" lengthAdjust="spacingAndGlyphs">E20</text>
<circle cx="1460.0" cy="340.8" r="28" fill="#fff" stroke="#000" stroke-width="2.7"/>
<text transform="translate(1469.2 340.8) rotate(-90)" font-size="27.5" font-weight="bold" fill="#DC2A33" text-anchor="middle" textLength="27" lengthAdjust="spacingAndGlyphs">E5</text>
<circle cx="1195.2" cy="211.0" r="28" fill="#fff" stroke="#000" stroke-width="2.7"/>
<text transform="translate(1204.4 211.0) rotate(-90)" font-size="27.5" font-weight="bold" fill="#2FA060" text-anchor="middle" textLength="41.5" lengthAdjust="spacingAndGlyphs">E31</text>
<circle cx="1424.4" cy="211.0" r="28" fill="#fff" stroke="#000" stroke-width="2.7"/>
<text transform="translate(1433.6 211.0) rotate(-90)" font-size="27.5" font-weight="bold" fill="#2FA060" text-anchor="middle" textLength="41.5" lengthAdjust="spacingAndGlyphs">E32</text>
<line x1="1150.00" y1="878.00" x2="1150.00" y2="897.00" stroke="#000" stroke-width="2.6" />
<circle cx="1150.0" cy="852.0" r="28" fill="#fff" stroke="#000" stroke-width="2.7"/>
<text transform="translate(1159.2 852.0) rotate(-90)" font-size="27.5" font-weight="bold" fill="#DC2A33" text-anchor="middle" textLength="41.5" lengthAdjust="spacingAndGlyphs">E15</text>
<circle cx="1150.0" cy="923.0" r="28" fill="#fff" stroke="#000" stroke-width="2.7"/>
<text transform="translate(1159.2 923.0) rotate(-90)" font-size="27.5" font-weight="bold" fill="#2F78B7" text-anchor="middle" textLength="41.5" lengthAdjust="spacingAndGlyphs">E30</text>
<line x1="1243.80" y1="878.00" x2="1243.80" y2="897.00" stroke="#000" stroke-width="2.6" />
<circle cx="1243.8" cy="852.0" r="28" fill="#fff" stroke="#000" stroke-width="2.7"/>
<text transform="translate(1253.0 852.0) rotate(-90)" font-size="27.5" font-weight="bold" fill="#DC2A33" text-anchor="middle" textLength="41.5" lengthAdjust="spacingAndGlyphs">E14</text>
<circle cx="1243.8" cy="923.0" r="28" fill="#fff" stroke="#000" stroke-width="2.7"/>
<text transform="translate(1253.0 923.0) rotate(-90)" font-size="27.5" font-weight="bold" fill="#2F78B7" text-anchor="middle" textLength="41.5" lengthAdjust="spacingAndGlyphs">E29</text>
<line x1="1316.00" y1="878.00" x2="1316.00" y2="897.00" stroke="#000" stroke-width="2.6" />
<circle cx="1316.0" cy="852.0" r="28" fill="#fff" stroke="#000" stroke-width="2.7"/>
<text transform="translate(1325.2 852.0) rotate(-90)" font-size="27.5" font-weight="bold" fill="#DC2A33" text-anchor="middle" textLength="41.5" lengthAdjust="spacingAndGlyphs">E13</text>
<circle cx="1316.0" cy="923.0" r="28" fill="#fff" stroke="#000" stroke-width="2.7"/>
<text transform="translate(1325.2 923.0) rotate(-90)" font-size="27.5" font-weight="bold" fill="#2F78B7" text-anchor="middle" textLength="41.5" lengthAdjust="spacingAndGlyphs">E28</text>
<line x1="1388.50" y1="878.00" x2="1388.50" y2="897.00" stroke="#000" stroke-width="2.6" />
<circle cx="1388.5" cy="852.0" r="28" fill="#fff" stroke="#000" stroke-width="2.7"/>
<text transform="translate(1397.7 852.0) rotate(-90)" font-size="27.5" font-weight="bold" fill="#DC2A33" text-anchor="middle" textLength="41.5" lengthAdjust="spacingAndGlyphs">E12</text>
<circle cx="1388.5" cy="923.0" r="28" fill="#fff" stroke="#000" stroke-width="2.7"/>
<text transform="translate(1397.7 923.0) rotate(-90)" font-size="27.5" font-weight="bold" fill="#2F78B7" text-anchor="middle" textLength="41.5" lengthAdjust="spacingAndGlyphs">E27</text>
<line x1="1461.00" y1="878.00" x2="1461.00" y2="897.00" stroke="#000" stroke-width="2.6" />
<circle cx="1461.0" cy="852.0" r="28" fill="#fff" stroke="#000" stroke-width="2.7"/>
<text transform="translate(1470.2 852.0) rotate(-90)" font-size="27.5" font-weight="bold" fill="#DC2A33" text-anchor="middle" textLength="41.5" lengthAdjust="spacingAndGlyphs">E11</text>
<circle cx="1461.0" cy="923.0" r="28" fill="#fff" stroke="#000" stroke-width="2.7"/>
<text transform="translate(1470.2 923.0) rotate(-90)" font-size="27.5" font-weight="bold" fill="#2F78B7" text-anchor="middle" textLength="41.5" lengthAdjust="spacingAndGlyphs">E26</text>
<circle cx="734.8" cy="406.5" r="18.6" fill="#fff" stroke="#000" stroke-width="2.7"/>
<text transform="translate(741.0 406.5) rotate(-90)" font-size="18.5" font-weight="normal" fill="#2F78B7" text-anchor="middle" textLength="34.5" lengthAdjust="spacingAndGlyphs" stroke="#2F78B7" stroke-width="0.5">O21</text>
<circle cx="734.8" cy="455.3" r="18.6" fill="#fff" stroke="#000" stroke-width="2.7"/>
<text transform="translate(741.0 455.3) rotate(-90)" font-size="18.5" font-weight="normal" fill="#DC2A33" text-anchor="middle" textLength="25" lengthAdjust="spacingAndGlyphs" stroke="#DC2A33" stroke-width="0.5">O6</text>
<circle cx="718.6" cy="525.0" r="18.6" fill="#fff" stroke="#000" stroke-width="2.7"/>
<text transform="translate(724.8 525.0) rotate(-90)" font-size="18.5" font-weight="normal" fill="#DC2A33" text-anchor="middle" textLength="25" lengthAdjust="spacingAndGlyphs" stroke="#DC2A33" stroke-width="0.5">O7</text>
<circle cx="760.8" cy="525.0" r="18.6" fill="#fff" stroke="#000" stroke-width="2.7"/>
<text transform="translate(767.0 525.0) rotate(-90)" font-size="18.5" font-weight="normal" fill="#2F78B7" text-anchor="middle" textLength="34.5" lengthAdjust="spacingAndGlyphs" stroke="#2F78B7" stroke-width="0.5">O22</text>
<circle cx="718.6" cy="595.5" r="18.6" fill="#fff" stroke="#000" stroke-width="2.7"/>
<text transform="translate(724.8 595.5) rotate(-90)" font-size="18.5" font-weight="normal" fill="#DC2A33" text-anchor="middle" textLength="25" lengthAdjust="spacingAndGlyphs" stroke="#DC2A33" stroke-width="0.5">O8</text>
<circle cx="760.8" cy="595.5" r="18.6" fill="#fff" stroke="#000" stroke-width="2.7"/>
<text transform="translate(767.0 595.5) rotate(-90)" font-size="18.5" font-weight="normal" fill="#2F78B7" text-anchor="middle" textLength="34.5" lengthAdjust="spacingAndGlyphs" stroke="#2F78B7" stroke-width="0.5">O23</text>
<circle cx="718.6" cy="666.0" r="18.6" fill="#fff" stroke="#000" stroke-width="2.7"/>
<text transform="translate(724.8 666.0) rotate(-90)" font-size="18.5" font-weight="normal" fill="#DC2A33" text-anchor="middle" textLength="25" lengthAdjust="spacingAndGlyphs" stroke="#DC2A33" stroke-width="0.5">O9</text>
<circle cx="760.8" cy="666.0" r="18.6" fill="#fff" stroke="#000" stroke-width="2.7"/>
<text transform="translate(767.0 666.0) rotate(-90)" font-size="18.5" font-weight="normal" fill="#2F78B7" text-anchor="middle" textLength="34.5" lengthAdjust="spacingAndGlyphs" stroke="#2F78B7" stroke-width="0.5">O24</text>
<circle cx="734.3" cy="731.0" r="18.6" fill="#fff" stroke="#000" stroke-width="2.7"/>
<text transform="translate(740.5 731.0) rotate(-90)" font-size="18.5" font-weight="normal" fill="#2F78B7" text-anchor="middle" textLength="34.5" lengthAdjust="spacingAndGlyphs" stroke="#2F78B7" stroke-width="0.5">O25</text>
<circle cx="734.3" cy="778.3" r="18.6" fill="#fff" stroke="#000" stroke-width="2.7"/>
<text transform="translate(740.5 778.3) rotate(-90)" font-size="18.5" font-weight="normal" fill="#DC2A33" text-anchor="middle" textLength="34.5" lengthAdjust="spacingAndGlyphs" stroke="#DC2A33" stroke-width="0.5">O10</text>
<circle cx="1750.0" cy="408.2" r="18.6" fill="#fff" stroke="#000" stroke-width="2.7"/>
<text transform="translate(1756.5 408.2) rotate(-90)" font-size="19.3" font-weight="bold" fill="#2F78B7" text-anchor="middle" textLength="29" lengthAdjust="spacingAndGlyphs">E21</text>
<circle cx="1750.0" cy="456.8" r="18.6" fill="#fff" stroke="#000" stroke-width="2.7"/>
<text transform="translate(1756.5 456.8) rotate(-90)" font-size="19.3" font-weight="bold" fill="#DC2A33" text-anchor="middle" textLength="19.5" lengthAdjust="spacingAndGlyphs">E6</text>
<circle cx="1794.0" cy="483.8" r="18.6" fill="#fff" stroke="#000" stroke-width="2.7"/>
<text transform="translate(1800.5 483.8) rotate(-90)" font-size="19.3" font-weight="bold" fill="#2FA060" text-anchor="middle" textLength="29" lengthAdjust="spacingAndGlyphs">E33</text>
<circle cx="1734.6" cy="524.6" r="18.6" fill="#fff" stroke="#000" stroke-width="2.7"/>
<text transform="translate(1741.1 524.6) rotate(-90)" font-size="19.3" font-weight="bold" fill="#DC2A33" text-anchor="middle" textLength="19.5" lengthAdjust="spacingAndGlyphs">E7</text>
<circle cx="1777.0" cy="524.8" r="18.6" fill="#fff" stroke="#000" stroke-width="2.7"/>
<text transform="translate(1783.5 524.8) rotate(-90)" font-size="19.3" font-weight="bold" fill="#2F78B7" text-anchor="middle" textLength="29" lengthAdjust="spacingAndGlyphs">E22</text>
<circle cx="1734.6" cy="595.0" r="18.6" fill="#fff" stroke="#000" stroke-width="2.7"/>
<text transform="translate(1741.1 595.0) rotate(-90)" font-size="19.3" font-weight="bold" fill="#DC2A33" text-anchor="middle" textLength="19.5" lengthAdjust="spacingAndGlyphs">E8</text>
<circle cx="1777.0" cy="595.0" r="18.6" fill="#fff" stroke="#000" stroke-width="2.7"/>
<text transform="translate(1783.5 595.0) rotate(-90)" font-size="19.3" font-weight="bold" fill="#2F78B7" text-anchor="middle" textLength="29" lengthAdjust="spacingAndGlyphs">E23</text>
<circle cx="1734.6" cy="666.8" r="18.6" fill="#fff" stroke="#000" stroke-width="2.7"/>
<text transform="translate(1741.1 666.8) rotate(-90)" font-size="19.3" font-weight="bold" fill="#DC2A33" text-anchor="middle" textLength="19.5" lengthAdjust="spacingAndGlyphs">E9</text>
<circle cx="1777.0" cy="666.8" r="18.6" fill="#fff" stroke="#000" stroke-width="2.7"/>
<text transform="translate(1783.5 666.8) rotate(-90)" font-size="19.3" font-weight="bold" fill="#2F78B7" text-anchor="middle" textLength="29" lengthAdjust="spacingAndGlyphs">E24</text>
<circle cx="1794.0" cy="709.2" r="18.6" fill="#fff" stroke="#000" stroke-width="2.7"/>
<text transform="translate(1800.5 709.2) rotate(-90)" font-size="19.3" font-weight="bold" fill="#2FA060" text-anchor="middle" textLength="29" lengthAdjust="spacingAndGlyphs">E34</text>
<circle cx="1750.0" cy="731.0" r="18.6" fill="#fff" stroke="#000" stroke-width="2.7"/>
<text transform="translate(1756.5 731.0) rotate(-90)" font-size="19.3" font-weight="bold" fill="#2F78B7" text-anchor="middle" textLength="29" lengthAdjust="spacingAndGlyphs">E25</text>
<circle cx="1750.0" cy="778.4" r="18.6" fill="#fff" stroke="#000" stroke-width="2.7"/>
<text transform="translate(1756.5 778.4) rotate(-90)" font-size="19.3" font-weight="bold" fill="#DC2A33" text-anchor="middle" textLength="29" lengthAdjust="spacingAndGlyphs">E10</text>
<text x="191.00" y="10.60" font-size="22.5" font-weight="bold" fill="#000" text-anchor="start" textLength="239.0" lengthAdjust="spacingAndGlyphs" >FASE I (30 VIVIENDAS)</text>
<rect x="192.5" y="29" width="237" height="96" fill="#fff" stroke="#000" stroke-width="2.4"/>
<rect x="203.00" y="37.00" width="25.00" height="24.50" fill="#2F7DC1" />
<rect x="203.00" y="88.00" width="25.00" height="24.50" fill="#E8232A" />
<text x="236.00" y="56.20" font-size="22.3" font-weight="bold" fill="#2E78B7" text-anchor="start" textLength="183.0" lengthAdjust="spacingAndGlyphs" >ALTAS (015 -030)</text>
<text x="236.00" y="107.40" font-size="22.3" font-weight="bold" fill="#D9232E" text-anchor="start" textLength="173.0" lengthAdjust="spacingAndGlyphs" >BAJAS (01 -015)</text>
<rect x="1071" y="-10" width="475.5" height="97" fill="#fff" stroke="#000" stroke-width="2.4"/>
<rect x="1080.20" y="-5.00" width="26.20" height="25.30" fill="#2F7DC1" />
<rect x="1080.20" y="47.40" width="26.20" height="24.40" fill="#E8232A" />
<rect x="1304.90" y="23.00" width="24.90" height="24.40" fill="#1E9A50" />
<text x="1120.80" y="15.60" font-size="22.3" font-weight="bold" fill="#2E78B7" text-anchor="start" textLength="179.4" lengthAdjust="spacingAndGlyphs" >ALTAS (E15 -E30)</text>
<text x="1120.00" y="67.00" font-size="22.3" font-weight="bold" fill="#D9232E" text-anchor="start" textLength="170.6" lengthAdjust="spacingAndGlyphs" >BAJAS (E1 -E15)</text>
<text x="1344.70" y="42.50" font-size="22" font-weight="bold" fill="#2FA060" text-anchor="start" textLength="196.3" lengthAdjust="spacingAndGlyphs" >ÁTICOS (E31 -E34)</text>
<text x="1560.00" y="41.70" font-size="22.5" font-weight="bold" fill="#000" text-anchor="start" textLength="246.0" lengthAdjust="spacingAndGlyphs" >FASE II (34 VIVIENDAS)</text>
<text x="233.00" y="1007.80" font-size="52" font-weight="bold" fill="#E3262B" text-anchor="start" textLength="142.5" lengthAdjust="spacingAndGlyphs" >FASE 1</text>
<text x="1270.50" y="1004.70" font-size="52" font-weight="bold" fill="#E3262B" text-anchor="start" textLength="149.5" lengthAdjust="spacingAndGlyphs" >FASE 2</text>
<text x="784.50" y="1093.20" font-size="48" font-weight="bold" fill="#000" text-anchor="start" textLength="358.0" lengthAdjust="spacingAndGlyphs" >PLANO GENERAL</text>
<rect x="437.5" y="1121.5" width="1057" height="113" fill="#fff" stroke="#000" stroke-width="2.6"/>
<text x="452.00" y="1166.20" font-size="35" font-weight="bold" fill="#000" text-anchor="start" textLength="173.0" lengthAdjust="spacingAndGlyphs" >* PISCINA</text>
<text x="452.00" y="1215.00" font-size="35" font-weight="bold" fill="#000" text-anchor="start" textLength="299.0" lengthAdjust="spacingAndGlyphs" >* PISTA DE PADEL</text>
<text x="784.00" y="1169.00" font-size="35" font-weight="bold" fill="#000" text-anchor="start" textLength="434.5" lengthAdjust="spacingAndGlyphs" >* GARAJE SUBTERRÁNEO</text>
<text x="783.00" y="1215.00" font-size="35" font-weight="bold" fill="#000" text-anchor="start" textLength="447.0" lengthAdjust="spacingAndGlyphs" >CON PARKING INCLUIDO</text>
<text x="1260.00" y="1215.00" font-size="35" font-weight="bold" fill="#000" text-anchor="start" textLength="222.5" lengthAdjust="spacingAndGlyphs" >* ASCENSOR</text>
<text transform="translate(1866.6 458.6) rotate(90)" font-size="50" font-weight="bold" fill="#000" textLength="317.5" lengthAdjust="spacingAndGlyphs">VISTAS AL MAR</text>
<path d="M1815.5 501.0H1841.5V491.0L1858.5 509.5L1841.5 528.0V518.0H1815.5Z" fill="#fff" stroke="#000" stroke-width="2.9"/>
<path d="M1815.5 729.5H1841.5V719.5L1858.5 738L1841.5 756.5V746.5H1815.5Z" fill="#fff" stroke="#000" stroke-width="2.9"/>
<rect x="1803.50" y="436.00" width="6.50" height="49.00" fill="#C4C4C4" />
<rect x="1815.90" y="436.00" width="6.50" height="49.00" fill="#C4C4C4" />
<rect x="1828.30" y="436.00" width="6.50" height="49.00" fill="#C4C4C4" />
<rect x="1803.00" y="478.00" width="8.00" height="7.00" fill="#C4C4C4" />
<path d="M1823.7 658V700" stroke="#BDBDBD" stroke-width="2.6" fill="none"/><path d="M1819 692L1823.7 712L1828.4 692Z" fill="#BDBDBD"/>
<circle cx="117.7" cy="1215" r="56.8" fill="#fff" stroke="#000" stroke-width="2.2"/>
<rect x="112.00" y="1156.00" width="12.40" height="60.50" fill="#000" />
<text x="118.70" y="1146.00" font-size="36" font-weight="bold" fill="#000" text-anchor="middle" >N</text>
<text x="40.00" y="1226.60" font-size="34" font-weight="bold" fill="#000" text-anchor="middle" textLength="27.0" lengthAdjust="spacingAndGlyphs" >O</text>
<text x="191.00" y="1226.60" font-size="34" font-weight="bold" fill="#000" text-anchor="middle" textLength="16.0" lengthAdjust="spacingAndGlyphs" >E</text>
</svg>
</body></html>
